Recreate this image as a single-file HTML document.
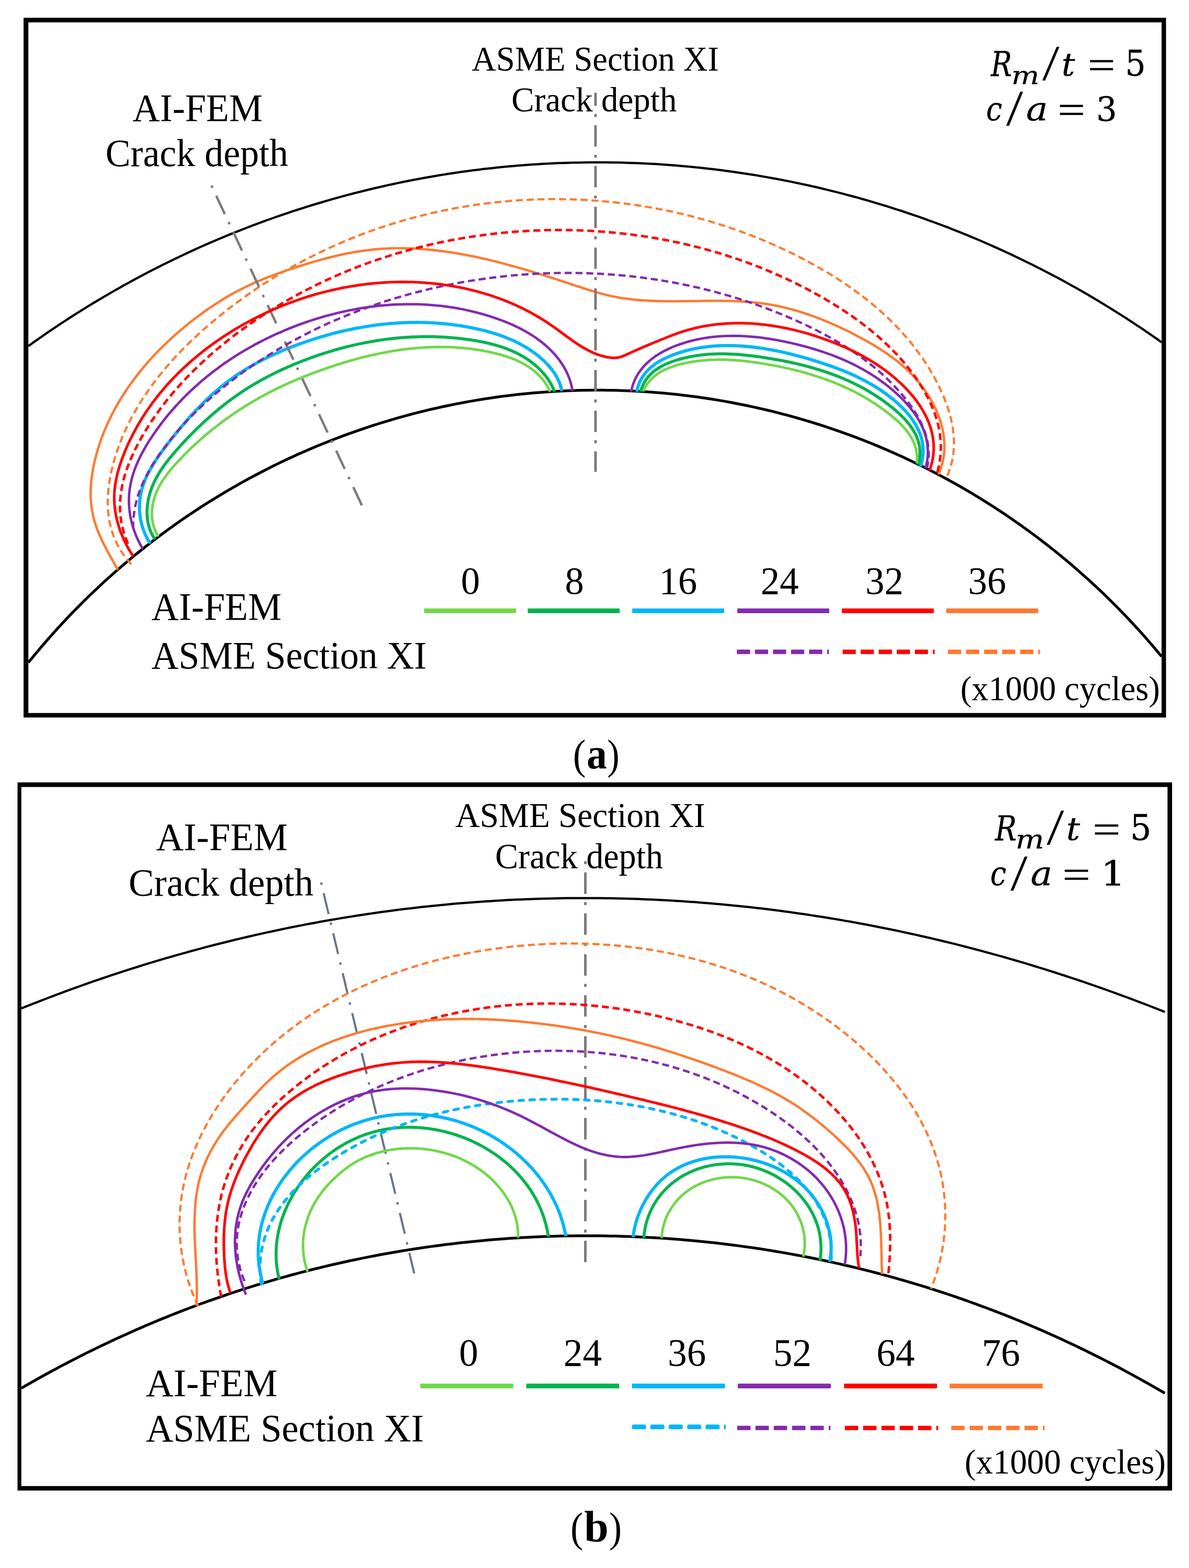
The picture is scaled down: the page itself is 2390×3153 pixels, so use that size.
<!DOCTYPE html>
<html><head><meta charset="utf-8"><title>Crack growth</title>
<style>html,body{margin:0;padding:0;background:#fff}svg{display:block}text{fill:#000}</style></head>
<body>
<svg width="2390" height="3153" viewBox="0 0 2390 3153" font-family="'Liberation Serif',serif">
<defs><filter id="soft" filterUnits="userSpaceOnUse" x="0" y="0" width="2390" height="3153"><feGaussianBlur stdDeviation="0.55"/></filter></defs>
<rect width="2390" height="3153" fill="#fff"/>
<g filter="url(#soft)">
<path fill="#000" fill-rule="evenodd" d="M47.4 35.8H2343.8V1442.8H47.4Z M57 45.1V1433.8H2334.9V45.1Z"/>
<path fill="#000" fill-rule="evenodd" d="M35.2 1573.3H2356V2997.2H35.2Z M42.9 1582.6V2988.3H2346.8V1582.6Z"/>
<g id="panel-a">
<path d="M57.0 695.9l10-7.2 10.1-7.1 10-7 10-6.9 10.1-6.8 10-6.7 10-6.7 10.1-6.5 10-6.5 10.1-6.3 10-6.3 10-6.2 10.1-6.2 10-6 10-5.9 10.1-5.9 10-5.8 10-5.7 10.1-5.7 10-5.5 10-5.5 10.1-5.4 10-5.4 10-5.2 10.1-5.2 10-5.1 10.1-5.1 10-4.9 10-4.9 10.1-4.9 10-4.7 10-4.7 10.1-4.6 10-4.6 10-4.5 10.1-4.4 10-4.3 10-4.3 10.1-4.2 10-4.2 10-4 10.1-4.1 10-3.9 10.1-3.9 10-3.8 10-3.8 10.1-3.7 10-3.7 10-3.5 10.1-3.6 10-3.4 10-3.4 10.1-3.4 10-3.2 10-3.2 10.1-3.2 10-3.1 10-3 10.1-3 10-2.9 10-2.9 10.1-2.8 10-2.8 10.1-2.7 10-2.6 10-2.6 10.1-2.5 10-2.5 10-2.4 10.1-2.3 10-2.3 10-2.3 10.1-2.2 10-2.1 10-2.1 10.1-2 10-2 10-1.9 10.1-1.8 10-1.8 10.1-1.8 10-1.7 10-1.6 10.1-1.6 10-1.6 10-1.4 10.1-1.5 10-1.3 10-1.4 10.1-1.2 10-1.3 10-1.1 10.1-1.1 10-1.1 10-1 10.1-1 10-0.9 10.1-0.8 10-0.8 10-0.8 10.1-0.7 10-0.6 10-0.6 10.1-0.6 10-0.5 10-0.4 10.1-0.4 10-0.3 10-0.3 10.1-0.2 10-0.2 10-0.2 10.1 0 10-0.1 10.1 0.1 10 0 10 0.2 10.1 0.1 10 0.3 10 0.3 10.1 0.3 10 0.4 10 0.4 10.1 0.5 10 0.5 10 0.6 10.1 0.7 10 0.7 10 0.7 10.1 0.8 10 0.9 10.1 0.9 10 0.9 10 1 10.1 1.1 10 1.1 10 1.2 10.1 1.2 10 1.2 10 1.4 10.1 1.3 10 1.5 10 1.5 10.1 1.5 10 1.6 10 1.6 10.1 1.7 10 1.8 10.1 1.8 10 1.8 10 1.9 10.1 2 10 2 10 2.1 10.1 2.1 10 2.2 10 2.2 10.1 2.3 10 2.4 10 2.4 10.1 2.5 10 2.5 10 2.5 10.1 2.7 10 2.7 10.1 2.7 10 2.8 10 2.9 10.1 2.9 10 3 10 3 10.1 3.1 10 3.2 10 3.2 10.1 3.2 10 3.4 10 3.4 10.1 3.4 10 3.5 10 3.6 10.1 3.7 10 3.7 10 3.7 10.1 3.8 10 3.9 10.1 4 10 4 10 4.1 10.1 4.1 10 4.2 10 4.3 10.1 4.4 10 4.4 10 4.5 10.1 4.5 10 4.6 10 4.7 10.1 4.8 10 4.8 10 4.9 10.1 4.9 10 5.1 10.1 5.1 10 5.2 10 5.2 10.1 5.3 10 5.4 10 5.5 10.1 5.6 10 5.6 10 5.7 10.1 5.8 10 5.9 10 5.9 10.1 6.1 10 6.1 10 6.2 10.1 6.3 10 6.3 10.1 6.5 10 6.5 10 6.7 10.1 6.7 10 6.8 10 6.9 10.1 7 10 7.1" fill="none" stroke="#000" stroke-width="4.5" stroke-linejoin="round"/>
<path d="M57.0 1332.3l10-12.3 10.1-12.1 10-11.8 10-11.5 10.1-11.4 10-11 10-10.9 10.1-10.7 10-10.4 10.1-10.2 10-10.1 10-9.8 10.1-9.7 10-9.5 10-9.3 10.1-9.1 10-9 10-8.8 10.1-8.6 10-8.5 10-8.4 10.1-8.2 10-8 10-7.9 10.1-7.8 10-7.6 10.1-7.5 10-7.3 10-7.2 10.1-7.1 10-7 10-6.9 10.1-6.7 10-6.6 10-6.5 10.1-6.4 10-6.2 10-6.2 10.1-6 10-6 10-5.8 10.1-5.7 10-5.7 10.1-5.5 10-5.4 10-5.3 10.1-5.2 10-5.1 10-5.1 10.1-4.9 10-4.8 10-4.8 10.1-4.6 10-4.6 10-4.4 10.1-4.4 10-4.3 10-4.2 10.1-4.1 10-4 10-4 10.1-3.8 10-3.8 10.1-3.7 10-3.6 10-3.5 10.1-3.5 10-3.3 10-3.3 10.1-3.2 10-3.2 10-3 10.1-3 10-2.9 10-2.8 10.1-2.7 10-2.7 10-2.6 10.1-2.5 10-2.4 10.1-2.4 10-2.2 10-2.3 10.1-2.1 10-2.1 10-2 10.1-1.9 10-1.8 10-1.8 10.1-1.7 10-1.6 10-1.6 10.1-1.5 10-1.4 10-1.4 10.1-1.2 10-1.2 10.1-1.2 10-1 10-1 10.1-1 10-0.8 10-0.8 10.1-0.7 10-0.7 10-0.6 10.1-0.5 10-0.4 10-0.4 10.1-0.3 10-0.3 10-0.1 10.1-0.1 10-0.1 10.1 0.1 10 0.1 10 0.1 10.1 0.3 10 0.3 10 0.4 10.1 0.4 10 0.5 10 0.6 10.1 0.7 10 0.7 10 0.8 10.1 0.8 10 1 10 1 10.1 1 10 1.2 10.1 1.2 10 1.3 10 1.3 10.1 1.4 10 1.5 10 1.6 10.1 1.6 10 1.7 10 1.8 10.1 1.9 10 1.9 10 2 10.1 2 10 2.2 10 2.2 10.1 2.3 10 2.3 10.1 2.5 10 2.5 10 2.6 10.1 2.6 10 2.8 10 2.8 10.1 2.9 10 2.9 10 3.1 10.1 3.1 10 3.2 10 3.3 10.1 3.4 10 3.4 10 3.5 10.1 3.7 10 3.6 10.1 3.8 10 3.9 10 3.9 10.1 4 10 4.2 10 4.2 10.1 4.3 10 4.3 10 4.5 10.1 4.6 10 4.6 10 4.8 10.1 4.8 10 4.9 10 5 10.1 5.2 10 5.2 10 5.3 10.1 5.4 10 5.5 10.1 5.7 10 5.7 10 5.8 10.1 6 10 6 10 6.2 10.1 6.2 10 6.4 10 6.5 10.1 6.6 10 6.7 10 6.9 10.1 7 10 7.1 10 7.2 10.1 7.4 10 7.5 10.1 7.6 10 7.7 10 7.9 10.1 8.1 10 8.2 10 8.3 10.1 8.5 10 8.7 10 8.8 10.1 8.9 10 9.2 10 9.3 10.1 9.5 10 9.6 10 9.9 10.1 10 10 10.3 10.1 10.4 10 10.7 10 10.8 10.1 11.1 10 11.4 10 11.5 10.1 11.8 10 12.1" fill="none" stroke="#000" stroke-width="5.5" stroke-linejoin="round"/>
<path d="M302.1 1092.8l-3.4-5.2 -3-5.4 -2.8-5.5 -2.5-5.7 -2.2-5.7 -1.9-5.8 -1.7-5.9 -1.3-5.9 -1.2-6 -0.8-6 -0.6-6 -0.3-6.1 0-6 0.2-6 0.4-5.9 0.8-5.9 1-5.8 1.2-5.7 1.5-5.7 1.7-5.6 1.9-5.5 2.1-5.5 2.3-5.4 2.5-5.4 2.7-5.3 2.8-5.2 2.9-5.2 3.1-5.1 3.2-5.1 3.3-5.1 3.4-5 3.5-5 3.6-4.9 3.6-5 3.7-4.9 3.7-4.8 3.7-4.9 3.7-4.8 3.8-4.8 3.8-4.7 3.8-4.8 3.8-4.7 3.9-4.7 3.9-4.6 3.9-4.6 3.9-4.6 4-4.6 4-4.5 4.1-4.4 4.1-4.5 4.1-4.4 4.1-4.3 4.2-4.3 4.2-4.2 4.3-4.2 4.3-4.2 4.3-4.1 4.4-4.1 4.4-4 4.5-3.9 4.5-3.9 4.6-3.8 4.6-3.8 4.6-3.7 4.7-3.7 4.8-3.6 4.8-3.5 4.8-3.5 4.9-3.3 5-3.4 5-3.2 5-3.2 5.1-3.2 5.1-3.1 5.2-3 5.2-2.9 5.3-2.9 5.3-2.9 5.3-2.7 5.4-2.8 5.4-2.6 5.4-2.6 5.5-2.6 5.5-2.5 5.5-2.5 5.5-2.4 5.6-2.3 5.6-2.3 5.6-2.3 5.6-2.2 5.7-2.1 5.6-2.2 5.7-2 5.7-2 5.7-2 5.7-2 5.7-1.8 5.8-1.9 5.7-1.8 5.8-1.7 5.8-1.7 5.8-1.7 5.7-1.6 5.9-1.6 5.8-1.5 5.8-1.5 5.8-1.4 5.9-1.4 5.8-1.3 5.9-1.3 5.8-1.2 5.9-1.1 5.9-1.2 5.9-1 5.9-1 5.9-1 5.9-0.9 5.9-0.9 6-0.8 5.9-0.7 5.9-0.7 6-0.7 5.9-0.5 6-0.6 5.9-0.4 6-0.5 6-0.3 5.9-0.3 6-0.3 6-0.2 6-0.1 6 0 5.9-0.1 6 0.1 6 0.1 6 0.2 6 0.2 6 0.3 6 0.4 6 0.4 6 0.5 6 0.5 6 0.6 6 0.7 6 0.7 6 0.9 6 0.8 6 1 6 1 6 1 6 1.2 6 1.2 6 1.3 6 1.3 5.9 1.4 5.9 1.6 5.9 1.6 5.9 1.6 5.8 1.8 5.8 1.9 5.7 2 5.7 2 5.6 2.2 5.6 2.3 5.5 2.3 5.5 2.5 5.4 2.6 5.3 2.7 5.2 2.8 5.2 3 5.1 3 5 3.2 4.9 3.3 4.7 3.5 4.7 3.5 4.6 3.8 4.5 3.8 4.4 4 4.2 4.1 4.1 4.3 4 4.5 3.8 4.6 3.5 4.7 3.4 5 3 5.1 2.8 5.3 2.5 5.5 2.2 5.8 1.8 5.9 1.4 6.1" fill="none" stroke="#00b6f8" stroke-width="6.4" stroke-linejoin="round"/>
<path d="M1280.0 787.8l1.4-6.6 1.9-6.2 2.2-5.8 2.6-5.6 3-5.2 3.4-4.9 3.6-4.6 4-4.3 4.2-4.1 4.5-3.8 4.6-3.6 4.9-3.4 5.1-3.1 5.2-2.9 5.4-2.8 5.4-2.5 5.6-2.4 5.6-2.3 5.7-2.1 5.7-1.9 5.8-1.8 5.7-1.7 5.9-1.6 5.8-1.4 5.9-1.4 5.9-1.1 6-1.1 5.9-1 6-0.8 6-0.7 6-0.7 6.1-0.5 6-0.4 6.1-0.3 6-0.2 6.1-0.1 6.1 0 6.1 0.1 6.1 0.2 6.1 0.2 6 0.4 6.1 0.4 6.1 0.5 6.1 0.6 6 0.7 6.1 0.7 6 0.8 6 0.9 6 0.9 6 1 5.9 1.1 5.9 1.1 5.9 1.1 5.9 1.3 5.9 1.2 5.8 1.4 5.9 1.4 5.8 1.4 5.8 1.5 5.8 1.5 5.8 1.6 5.7 1.6 5.8 1.6 5.7 1.7 5.8 1.7 5.7 1.8 5.8 1.8 5.7 1.8 5.7 1.9 5.7 1.9 5.7 1.9 5.7 2 5.7 2.1 5.6 2.1 5.7 2.1 5.6 2.2 5.6 2.3 5.5 2.4 5.6 2.4 5.5 2.5 5.4 2.5 5.5 2.6 5.4 2.7 5.3 2.8 5.4 2.9 5.2 2.9 5.3 3.1 5.2 3.1 5.1 3.2 5.1 3.3 5.1 3.4 4.9 3.5 5 3.7 4.8 3.7 4.9 3.8 4.7 4 4.7 4 4.5 4.2 4.5 4.2 4.3 4.4 4.1 4.5 4.1 4.5 3.8 4.7 3.6 4.8 3.5 4.9 3.2 5 3 5.1 2.7 5.2 2.5 5.3 2.2 5.4 1.9 5.5 1.6 5.6 1.2 5.7 1 5.8 0.5 5.9 0.2 6 -0.2 6.1 -0.6 6.2 -1 6.2 -1.4 6.4 -1.9 6.5" fill="none" stroke="#00b6f8" stroke-width="6.4" stroke-linejoin="round"/>
<path d="M236.7 1145.9l-2.8-5.3 -2.9-5.2 -2.9-5.3 -3-5.3 -2.9-5.3 -2.9-5.3 -2.9-5.3 -2.9-5.3 -2.8-5.4 -2.7-5.4 -2.7-5.4 -2.5-5.5 -2.4-5.4 -2.4-5.6 -2.1-5.5 -2.1-5.6 -1.8-5.7 -1.8-5.6 -1.5-5.7 -1.5-5.8 -1.2-5.8 -1.1-5.8 -0.9-5.8 -0.7-5.9 -0.5-5.9 -0.4-5.9 -0.2-6 0-6 0.1-6 0.3-6 0.5-6 0.5-6 0.8-6 0.8-6 1-6 1-6 1.2-5.9 1.3-6 1.4-5.9 1.5-5.9 1.6-5.8 1.6-5.8 1.8-5.8 1.8-5.7 1.9-5.7 2-5.7 2.1-5.7 2.1-5.6 2.2-5.5 2.3-5.5 2.4-5.5 2.4-5.5 2.6-5.4 2.6-5.4 2.6-5.4 2.8-5.3 2.8-5.2 2.8-5.3 3-5.2 3-5.2 3.1-5.1 3.1-5.1 3.2-5 3.3-5.1 3.3-4.9 3.4-5 3.4-4.9 3.6-4.9 3.5-4.8 3.6-4.8 3.7-4.7 3.7-4.7 3.8-4.7 3.8-4.7 3.9-4.6 4-4.5 3.9-4.5 4.1-4.5 4-4.5 4.2-4.4 4.1-4.3 4.2-4.4 4.3-4.2 4.3-4.3 4.3-4.2 4.4-4.2 4.4-4.1 4.5-4.1 4.5-4 4.5-4 4.5-4 4.6-3.9 4.7-3.9 4.6-3.8 4.7-3.8 4.7-3.8 4.7-3.7 4.8-3.7 4.8-3.6 4.8-3.6 4.9-3.5 4.9-3.5 4.9-3.5 4.9-3.4 5-3.4 5-3.3 5-3.2 5.1-3.2 5-3.2 5.1-3.1 5.2-3 5.2-3 5.2-3 5.2-2.8 5.2-2.9 5.3-2.7 5.4-2.7 5.3-2.7 5.4-2.6 5.4-2.5 5.4-2.5 5.5-2.4 5.5-2.3 5.5-2.3 5.6-2.3 5.5-2.2 5.6-2.1 5.7-2.1 5.6-2.1 5.6-2.1 5.7-2 5.7-2 5.7-1.9 5.7-2 5.7-1.9 5.8-1.9 5.7-1.8 5.8-1.9 5.7-1.8 5.8-1.8 5.8-1.7 5.8-1.8 5.8-1.7 5.8-1.6 5.9-1.6 5.8-1.6 5.8-1.5 5.9-1.5 5.9-1.5 5.8-1.4 5.9-1.3 5.9-1.3 5.9-1.3 5.9-1.2 5.9-1.1 5.9-1.1 5.9-1 5.9-0.9 5.9-0.9 6-0.8 5.9-0.8 6-0.7 5.9-0.6 6-0.5 5.9-0.5 6-0.4 5.9-0.3 6-0.3 6-0.2 5.9-0.1 6-0.1 6 0 6 0.1 5.9 0.1 6 0.2 6 0.2 6 0.3 6 0.4 5.9 0.4 6 0.5 6 0.5 6 0.5 5.9 0.7 6 0.6 6 0.8 5.9 0.7 6 0.8 5.9 0.9 6 0.9 5.9 1 6 0.9 5.9 1.1 6 1.1 5.9 1.1 5.9 1.1 5.9 1.2 5.9 1.2 5.9 1.3 5.9 1.3 5.9 1.3 5.9 1.4 5.9 1.4 5.8 1.4 5.9 1.4 5.8 1.5 5.9 1.5 5.8 1.6 5.8 1.5 5.8 1.6 5.8 1.6 5.8 1.6 5.8 1.7 5.7 1.6 5.8 1.7 5.7 1.7 5.8 1.7 5.7 1.8 5.7 1.7 5.7 1.8 5.7 1.7 5.8 1.8 5.7 1.8 5.7 1.9 5.7 1.8 5.7 1.8 5.7 1.9 5.7 1.9 5.7 1.8 5.7 1.9 5.7 1.9 5.7 1.9 5.7 1.9 5.7 1.9 5.8 1.9 5.7 1.8 5.7 1.9 5.8 1.8 5.7 1.7 5.8 1.7 5.8 1.7 5.8 1.6 5.8 1.5 5.8 1.4 5.9 1.4 5.8 1.2 5.9 1.2 5.9 1.1 5.9 1 5.9 0.9 5.9 0.8 5.9 0.7 6 0.7 6 0.6 5.9 0.5 6 0.4 6 0.4 6 0.4 6 0.3 6 0.2 6 0.2 6 0.1 6 0.1 6 0.1 6.1 0 6 0.1 6 0 6-0.1 6 0 6.1-0.1 6-0.1 6-0.1 6 0 6-0.1 6.1-0.1 6-0.1 6-0.1 6 0 6-0.1 6 0 6 0 6 0 6 0.1 6 0.1 6 0.1 6 0.2 6 0.2 5.9 0.2 6 0.3 6 0.4 5.9 0.4 6 0.5 5.9 0.5 5.9 0.6 6 0.7 5.9 0.7 5.9 0.9 5.9 0.9 5.9 1 5.9 1 5.9 1.2 5.8 1.2 5.9 1.3 5.8 1.4 5.9 1.4 5.8 1.6 5.8 1.6 5.8 1.6 5.7 1.8 5.8 1.8 5.8 1.9 5.7 1.9 5.7 2 5.7 2 5.7 2.1 5.6 2.2 5.7 2.2 5.6 2.3 5.6 2.4 5.6 2.3 5.5 2.5 5.6 2.5 5.5 2.5 5.5 2.6 5.4 2.6 5.5 2.6 5.4 2.7 5.4 2.8 5.3 2.7 5.4 2.9 5.3 2.8 5.2 2.9 5.3 2.9 5.2 2.9 5.2 3 5.1 3 5.1 3.1 5.1 3.1 5 3.2 5 3.3 4.9 3.3 4.9 3.3 4.8 3.5 4.8 3.5 4.7 3.5 4.6 3.7 4.6 3.7 4.5 3.9 4.5 3.9 4.3 4 4.3 4.1 4.3 4.3 4.1 4.3 4.1 4.4 4 4.6 3.9 4.6 3.8 4.8 3.7 4.9 3.6 4.9 3.4 5.1 3.4 5.1 3.2 5.2 3.1 5.3 3 5.3 2.8 5.5 2.7 5.4 2.5 5.6 2.4 5.6 2.2 5.7 2 5.6 1.8 5.8 1.7 5.8 1.4 5.8 1.3 5.8 1 5.9 0.9 5.8 0.6 5.9 0.4 5.9 0.2 5.9 0 5.9 -0.3 5.9 -0.5 5.9 -0.8 5.9 -1 5.9 -1.3 5.8 -1.6 5.9 -1.8 5.8 -2.2 5.7 -2.4 5.7" fill="none" stroke="#ff7a30" stroke-width="4.8" stroke-linejoin="round"/>
<path d="M264.0 1134.8l-4.5-5 -4.2-5 -4-5.1 -3.8-5.2 -3.5-5.3 -3.3-5.3 -3-5.4 -2.8-5.5 -2.6-5.4 -2.4-5.6 -2.1-5.6 -2-5.6 -1.7-5.7 -1.6-5.7 -1.3-5.7 -1.2-5.8 -1-5.8 -0.8-5.9 -0.7-5.8 -0.4-5.9 -0.3-5.9 -0.2-5.9 0-5.9 0.1-5.9 0.3-6 0.5-5.9 0.5-5.9 0.7-6 0.8-5.9 1-5.9 1-5.9 1.2-5.9 1.2-5.8 1.4-5.9 1.4-5.8 1.6-5.8 1.6-5.7 1.7-5.8 1.7-5.7 1.9-5.6 1.9-5.6 2-5.6 2.1-5.6 2.2-5.5 2.2-5.5 2.3-5.5 2.4-5.4 2.5-5.4 2.5-5.3 2.6-5.4 2.6-5.3 2.7-5.2 2.8-5.3 2.9-5.2 2.9-5.1 2.9-5.2 3.1-5.1 3.1-5.1 3.1-5 3.3-5 3.2-5 3.4-4.9 3.3-4.9 3.5-4.9 3.5-4.9 3.5-4.8 3.6-4.8 3.7-4.7 3.7-4.8 3.7-4.7 3.8-4.6 3.8-4.6 3.9-4.6 4-4.6 3.9-4.5 4-4.5 4.1-4.5 4.1-4.5 4.1-4.4 4.2-4.3 4.2-4.4 4.3-4.3 4.3-4.3 4.3-4.3 4.4-4.2 4.4-4.2 4.4-4.1 4.4-4.2 4.5-4.1 4.5-4 4.6-4.1 4.6-4 4.5-4 4.7-3.9 4.6-3.9 4.7-3.9 4.7-3.9 4.7-3.8 4.7-3.8 4.8-3.8 4.7-3.7 4.8-3.7 4.8-3.7 4.9-3.6 4.8-3.6 4.9-3.6 4.9-3.6 4.9-3.5 4.9-3.5 4.9-3.4 5-3.5 5-3.4 4.9-3.4 5.1-3.3 5-3.3 5-3.3 5.1-3.2 5.1-3.2 5.1-3.2 5.1-3.2 5.1-3.1 5.2-3.1 5.1-3.1 5.2-3 5.2-3 5.2-3 5.2-2.9 5.3-2.9 5.2-2.9 5.3-2.8 5.3-2.9 5.3-2.8 5.3-2.7 5.3-2.7 5.4-2.7 5.3-2.7 5.4-2.6 5.4-2.6 5.4-2.6 5.4-2.5 5.5-2.5 5.4-2.5 5.4-2.4 5.5-2.5 5.5-2.3 5.5-2.4 5.5-2.3 5.5-2.3 5.5-2.3 5.6-2.2 5.5-2.2 5.6-2.1 5.6-2.2 5.6-2.1 5.6-2 5.6-2.1 5.6-2 5.7-2 5.6-1.9 5.7-1.9 5.6-1.9 5.7-1.8 5.7-1.8 5.7-1.8 5.7-1.8 5.7-1.7 5.7-1.7 5.8-1.7 5.7-1.6 5.8-1.6 5.7-1.5 5.8-1.6 5.8-1.5 5.8-1.4 5.7-1.5 5.9-1.4 5.8-1.4 5.8-1.3 5.8-1.3 5.8-1.3 5.9-1.2 5.8-1.2 5.9-1.2 5.9-1.2 5.8-1.1 5.9-1.1 5.9-1 5.9-1 5.9-1 5.9-1 5.9-0.9 5.9-0.9 5.9-0.9 5.9-0.8 6-0.8 5.9-0.7 5.9-0.8 6-0.7 5.9-0.6 6-0.7 5.9-0.6 6-0.5 6-0.6 5.9-0.5 6-0.5 6-0.4 6-0.4 5.9-0.4 6-0.3 6-0.3 6-0.3 6-0.3 6-0.2 6-0.2 6-0.1 6-0.1 6-0.1 6-0.1 6 0 6 0 6 0.1 6 0.1 6 0.1 6 0.1 6 0.2 6 0.2 6 0.2 6 0.3 6 0.3 6 0.3 5.9 0.4 6 0.4 6 0.5 6 0.4 6 0.5 6 0.5 6 0.6 6 0.6 5.9 0.6 6 0.7 6 0.7 5.9 0.7 6 0.8 6 0.8 5.9 0.8 6 0.8 5.9 0.9 5.9 0.9 6 1 5.9 1 5.9 1 6 1 5.9 1.1 5.9 1.1 5.9 1.2 5.9 1.2 5.9 1.2 5.8 1.2 5.9 1.3 5.9 1.3 5.9 1.3 5.8 1.4 5.9 1.4 5.8 1.5 5.8 1.4 5.9 1.5 5.8 1.6 5.8 1.5 5.8 1.6 5.8 1.7 5.7 1.6 5.8 1.7 5.8 1.8 5.7 1.7 5.8 1.8 5.7 1.9 5.7 1.8 5.7 1.9 5.7 1.9 5.7 2 5.7 2 5.7 2 5.6 2.1 5.7 2 5.6 2.2 5.6 2.1 5.7 2.2 5.5 2.2 5.6 2.3 5.6 2.3 5.6 2.3 5.5 2.3 5.5 2.4 5.6 2.4 5.5 2.5 5.5 2.4 5.4 2.5 5.5 2.6 5.5 2.6 5.4 2.6 5.4 2.6 5.4 2.7 5.4 2.7 5.4 2.7 5.4 2.8 5.3 2.8 5.3 2.8 5.3 2.9 5.3 2.9 5.3 2.9 5.3 3 5.2 3 5.2 3.1 5.2 3 5.2 3.1 5.1 3.2 5.1 3.2 5.1 3.2 5.1 3.2 5 3.3 5 3.3 5 3.4 5 3.4 4.9 3.4 4.9 3.5 4.9 3.5 4.8 3.6 4.8 3.5 4.7 3.7 4.8 3.6 4.7 3.7 4.6 3.8 4.6 3.8 4.6 3.8 4.5 3.9 4.5 3.9 4.5 3.9 4.4 4 4.4 4 4.3 4.1 4.3 4.1 4.2 4.2 4.2 4.2 4.1 4.2 4.1 4.3 4 4.4 4 4.3 4 4.5 3.9 4.4 3.8 4.5 3.8 4.6 3.7 4.6 3.7 4.6 3.6 4.7 3.6 4.8 3.5 4.7 3.5 4.9 3.4 4.9 3.3 4.9 3.3 5 3.2 5 3.1 5 3.1 5.2 3 5.1 3 5.2 2.9 5.3 2.8 5.3 2.8 5.4 2.7 5.4 2.6 5.5 2.5 5.5 2.5 5.5 2.3 5.6 2.3 5.6 2.1 5.7 2.1 5.7 1.9 5.7 1.8 5.8 1.7 5.8 1.5 5.8 1.4 5.8 1.2 5.9 1.1 5.9 1 5.9 0.7 5.9 0.6 5.9 0.4 5.9 0.3 6 0 5.9 -0.1 6 -0.4 5.9 -0.5 6 -0.8 5.9 -1 5.9 -1.2 6 -1.5 5.9 -1.7 5.9 -1.9 5.9 -2.2 5.8 -2.5 5.9 -2.7 5.8" fill="none" stroke="#ff7a30" stroke-width="4.4" stroke-linejoin="round" stroke-dasharray="14 7.7"/>
<path d="M1197 186.5V948.7" fill="none" stroke="#7f7a7a" stroke-width="5.2" stroke-dasharray="43 16.5 6 16.5" stroke-dashoffset="16.7"/>
<path d="M425 373.3L730 1021.7" fill="none" stroke="#7f7a7a" stroke-width="4.8" stroke-dasharray="5 17.7 40.5 17.7"/>
<path d="M311.3 1084.4l-3.3-5.3 -2.9-5.4 -2.5-5.6 -2.1-5.7 -1.7-5.8 -1.3-5.9 -1-5.9 -0.6-6 -0.3-6.1 0-6 0.3-6 0.6-6.1 0.9-5.9 1.1-5.9 1.4-5.8 1.6-5.8 1.8-5.6 2-5.5 2.3-5.5 2.4-5.4 2.7-5.3 2.8-5.2 2.9-5.1 3.1-5.1 3.3-5 3.3-5 3.5-4.9 3.6-4.8 3.8-4.8 3.8-4.7 3.8-4.7 4-4.6 4-4.6 4-4.5 4.1-4.6 4.1-4.4 4.2-4.5 4.1-4.4 4.2-4.4 4.2-4.3 4.3-4.3 4.3-4.3 4.3-4.2 4.3-4.2 4.4-4.2 4.4-4.1 4.4-4.1 4.5-4 4.5-4 4.5-3.9 4.6-3.9 4.6-3.9 4.6-3.8 4.7-3.7 4.6-3.8 4.8-3.6 4.7-3.6 4.8-3.6 4.9-3.5 4.8-3.5 4.9-3.4 5-3.4 4.9-3.3 5.1-3.3 5-3.2 5.1-3.1 5.1-3.1 5.2-3 5.2-3 5.2-3 5.3-2.8 5.3-2.9 5.3-2.7 5.3-2.8 5.4-2.7 5.4-2.6 5.5-2.6 5.4-2.5 5.5-2.5 5.5-2.4 5.5-2.4 5.6-2.4 5.5-2.2 5.6-2.3 5.6-2.2 5.6-2.2 5.7-2.1 5.6-2.1 5.7-2 5.6-2 5.7-2 5.7-1.9 5.8-1.8 5.7-1.8 5.7-1.8 5.8-1.7 5.7-1.7 5.8-1.6 5.8-1.6 5.8-1.5 5.8-1.5 5.9-1.4 5.8-1.4 5.9-1.3 5.8-1.3 5.9-1.2 5.9-1.2 5.8-1.1 5.9-1.1 5.9-1 6-1 5.9-0.9 5.9-0.9 5.9-0.8 6-0.7 5.9-0.7 6-0.7 6-0.6 5.9-0.5 6-0.5 6-0.4 6-0.4 6-0.3 6-0.2 6-0.2 6-0.2 6-0.1 6 0 6 0.1 6.1 0.1 6 0.1 6 0.2 6 0.3 6.1 0.3 6 0.4 6 0.5 6.1 0.5 6 0.6 6.1 0.7 6 0.7 6 0.8 6.1 0.8 6 0.9 6 1 6 1.1 6 1.1 6 1.2 5.9 1.3 6 1.4 5.8 1.6 5.8 1.6 5.8 1.7 5.7 1.8 5.7 2 5.6 2.1 5.5 2.2 5.5 2.3 5.4 2.5 5.3 2.6 5.2 2.7 5.1 2.9 5 3.1 4.9 3.2 4.8 3.4 4.7 3.5 4.6 3.8 4.4 3.9 4.3 4.1 4.2 4.2 4 4.5 3.9 4.6 3.7 4.9 3.4 5 3.2 5.3 3 5.4 2.6 5.6 2.3 5.9" fill="none" stroke="#00b450" stroke-width="6.0" stroke-linejoin="round"/>
<path d="M1287.5 787.5l2-6.3 2.3-5.9 2.8-5.5 3.2-5.2 3.5-4.8 3.8-4.5 4.1-4.1 4.4-3.9 4.6-3.6 4.9-3.3 5.1-3 5.2-2.8 5.4-2.6 5.6-2.3 5.6-2.2 5.7-2 5.8-1.8 5.8-1.7 5.8-1.5 5.8-1.4 5.9-1.3 5.8-1.1 5.9-1.1 5.9-0.9 6-0.7 5.9-0.7 5.9-0.5 6-0.5 6-0.3 6-0.2 6-0.2 6 0 6 0 6 0.1 6 0.3 6 0.3 6.1 0.3 6 0.5 6 0.5 6.1 0.6 6 0.6 6 0.7 6.1 0.7 6 0.8 6 0.9 6 0.9 6 0.9 6 1 6 1 6 1 5.9 1.1 6 1.1 5.9 1.1 6 1.2 5.9 1.3 5.9 1.3 5.9 1.3 5.8 1.4 5.9 1.4 5.8 1.5 5.8 1.5 5.8 1.6 5.8 1.6 5.7 1.7 5.8 1.8 5.7 1.8 5.7 1.8 5.6 1.9 5.7 2 5.6 2.1 5.5 2.1 5.6 2.2 5.5 2.2 5.5 2.3 5.5 2.4 5.4 2.5 5.4 2.5 5.4 2.6 5.3 2.6 5.4 2.8 5.2 2.8 5.3 2.9 5.2 3 5.1 3.1 5.2 3.1 5 3.3 5.1 3.3 5 3.4 5 3.5 4.9 3.6 4.9 3.6 4.8 3.8 4.8 3.8 4.7 4 4.7 4 4.5 4.2 4.4 4.3 4.3 4.3 4.1 4.5 3.9 4.6 3.7 4.7 3.4 4.8 3.2 4.9 2.9 5.1 2.7 5.2 2.2 5.3 2 5.4 1.6 5.6 1.2 5.7 0.7 5.9 0.4 5.9 -0.1 6.2 -0.6 6.3 -1 6.4 -1.6 6.6" fill="none" stroke="#00b450" stroke-width="6.0" stroke-linejoin="round"/>
<path d="M318.4 1078.7l-3.3-5.5 -2.7-5.7 -2.3-5.7 -1.8-5.8 -1.4-5.9 -0.9-6 -0.5-5.9 -0.2-6 0.2-6 0.6-5.9 0.9-6 1.3-5.8 1.5-5.7 1.8-5.7 2.1-5.5 2.3-5.4 2.5-5.3 2.8-5.2 3-5.2 3.1-5 3.4-4.9 3.5-4.8 3.6-4.8 3.7-4.7 3.9-4.6 4-4.6 4-4.5 4.1-4.5 4.2-4.4 4.2-4.4 4.2-4.3 4.3-4.3 4.3-4.3 4.3-4.2 4.4-4.2 4.4-4.1 4.5-4.1 4.4-4 4.6-4 4.5-4 4.6-3.9 4.6-3.9 4.7-3.8 4.7-3.8 4.7-3.7 4.8-3.7 4.7-3.7 4.9-3.6 4.8-3.6 4.9-3.5 4.9-3.5 4.9-3.4 5-3.4 4.9-3.3 5-3.3 5.1-3.2 5-3.2 5.1-3.2 5.1-3.1 5.2-3.1 5.1-3 5.2-2.9 5.2-3 5.3-2.8 5.2-2.9 5.3-2.8 5.3-2.7 5.3-2.7 5.3-2.7 5.4-2.6 5.4-2.6 5.4-2.5 5.4-2.5 5.5-2.5 5.4-2.4 5.5-2.4 5.5-2.3 5.5-2.3 5.6-2.3 5.5-2.2 5.6-2.2 5.6-2.2 5.6-2.1 5.6-2.1 5.7-2 5.6-2 5.7-2 5.7-2 5.7-1.9 5.7-1.9 5.7-1.8 5.8-1.9 5.7-1.8 5.8-1.7 5.8-1.7 5.8-1.7 5.8-1.6 5.8-1.6 5.8-1.5 5.9-1.5 5.8-1.5 5.9-1.4 5.9-1.4 5.9-1.3 5.8-1.2 5.9-1.3 6-1.1 5.9-1.2 5.9-1 5.9-1.1 5.9-0.9 6-0.9 5.9-0.9 6-0.8 5.9-0.7 6-0.7 6-0.6 5.9-0.6 6-0.5 6-0.5 6-0.3 5.9-0.3 6-0.3 6-0.2 6-0.1 6-0.1 5.9 0.1 6 0 6 0.2 6 0.2 6 0.3 5.9 0.4 6 0.4 6 0.6 5.9 0.6 6 0.6 6 0.8 5.9 0.8 6 0.9 5.9 1 6 1.1 5.9 1.1 5.9 1.3 5.9 1.3 5.9 1.4 5.9 1.5 5.9 1.6 5.8 1.8 5.7 1.8 5.7 2 5.6 2.2 5.6 2.2 5.4 2.5 5.3 2.6 5.2 2.8 5.1 2.9 5 3.2 4.8 3.4 4.7 3.5 4.5 3.8 4.3 4 4.2 4.2 3.9 4.5 3.8 4.7 3.5 5 3.3 5.3 3.1 5.5 2.9 5.8" fill="none" stroke="#70d848" stroke-width="5.2" stroke-linejoin="round"/>
<path d="M1292.8 787.0l2.7-5.8 3-5.5 3.4-5.1 3.8-4.7 4-4.3 4.4-4 4.5-3.6 4.9-3.4 5-3.1 5.2-2.8 5.4-2.5 5.6-2.3 5.6-2.1 5.8-2 5.8-1.7 5.9-1.6 5.9-1.4 5.9-1.3 5.9-1.2 5.9-1 6-1 5.9-0.8 6-0.7 6-0.5 6-0.5 6-0.4 6-0.2 6-0.2 6-0.1 6 0 6.1 0.2 6 0.2 6 0.2 6.1 0.4 6 0.4 6.1 0.6 6 0.5 6 0.7 6.1 0.7 6 0.8 6 0.8 6.1 0.9 6 0.9 6 1 6 1 6 1.1 6 1.1 6 1.1 5.9 1.2 6 1.2 6 1.3 5.9 1.3 5.9 1.4 5.9 1.4 5.9 1.5 5.9 1.5 5.8 1.6 5.9 1.6 5.8 1.7 5.8 1.7 5.8 1.8 5.7 1.8 5.8 1.9 5.7 1.9 5.6 2.1 5.7 2 5.6 2.2 5.6 2.1 5.6 2.3 5.6 2.3 5.5 2.4 5.5 2.5 5.4 2.5 5.4 2.6 5.4 2.6 5.4 2.8 5.3 2.8 5.3 2.8 5.2 3 5.2 3 5.2 3.1 5.1 3.2 5.1 3.2 5.1 3.3 5 3.5 4.9 3.4 4.9 3.6 4.9 3.7 4.8 3.7 4.8 3.8 4.7 3.9 4.7 4 4.5 4.1 4.4 4.2 4.3 4.4 4.1 4.4 3.9 4.6 3.6 4.7 3.4 4.8 3.2 5 2.8 5.1 2.5 5.3 2.1 5.5 1.8 5.6 1.3 5.9 1 6 0.4 6.2 0 6.3 -0.5 6.6" fill="none" stroke="#70d848" stroke-width="5.2" stroke-linejoin="round"/>
<path d="M267.9 1062.8l-0.1-6.2 0.1-6.1 0.3-6.1 0.5-6 0.7-6 0.9-5.9 1-5.9 1.2-5.8 1.4-5.8 1.5-5.7 1.7-5.7 1.9-5.6 2-5.6 2.1-5.5 2.3-5.5 2.4-5.4 2.5-5.4 2.6-5.4 2.8-5.3 2.8-5.2 3-5.2 3-5.2 3.1-5.1 3.3-5.1 3.3-5 3.3-5 3.5-5 3.5-4.9 3.5-4.8 3.7-4.9 3.6-4.8 3.7-4.7 3.8-4.7 3.7-4.7 3.9-4.6 3.8-4.6 4-4.6 3.9-4.5 4-4.4 4-4.5 4.1-4.4 4.1-4.3 4.2-4.4 4.2-4.3 4.2-4.2 4.2-4.2 4.3-4.2 4.4-4.1 4.3-4.2 4.4-4 4.5-4.1 4.4-4 4.5-3.9 4.5-3.9 4.6-3.9 4.6-3.9 4.6-3.8 4.6-3.8 4.7-3.8 4.7-3.7 4.7-3.7 4.8-3.6 4.8-3.7 4.8-3.5 4.8-3.6 4.8-3.5 4.9-3.5 4.9-3.5 4.9-3.4 5-3.4 5-3.4 4.9-3.3 5-3.3 5.1-3.3 5-3.2 5.1-3.2 5.1-3.2 5.1-3.1 5.1-3.1 5.1-3.1 5.2-3.1 5.2-3 5.2-3 5.2-3 5.2-2.9 5.3-2.9 5.2-2.8 5.3-2.9 5.3-2.8 5.3-2.8 5.4-2.7 5.3-2.7 5.4-2.7 5.4-2.7 5.4-2.6 5.4-2.6 5.4-2.5 5.5-2.6 5.4-2.5 5.5-2.4 5.5-2.5 5.5-2.4 5.5-2.3 5.5-2.4 5.6-2.3 5.5-2.3 5.6-2.2 5.6-2.3 5.6-2.1 5.6-2.2 5.6-2.1 5.6-2.1 5.7-2.1 5.7-2.1 5.6-2 5.7-1.9 5.7-2 5.7-1.9 5.7-1.9 5.7-1.9 5.8-1.8 5.7-1.8 5.8-1.8 5.7-1.7 5.8-1.7 5.8-1.7 5.8-1.6 5.8-1.6 5.8-1.6 5.8-1.6 5.9-1.5 5.8-1.5 5.8-1.5 5.9-1.4 5.9-1.4 5.8-1.4 5.9-1.3 5.9-1.3 5.9-1.3 5.9-1.3 5.9-1.2 5.9-1.2 5.9-1.2 5.9-1.1 5.9-1.1 6-1.1 5.9-1 5.9-1.1 6-1 5.9-0.9 6-0.9 5.9-0.9 6-0.9 6-0.8 5.9-0.9 6-0.7 6-0.8 6-0.7 6-0.7 5.9-0.7 6-0.6 6-0.6 6-0.6 6-0.5 6-0.5 6-0.5 6-0.5 6-0.4 6-0.4 6-0.3 6-0.4 6-0.3 6-0.3 6-0.2 6-0.2 6-0.2 6-0.2 6-0.1 6-0.1 6-0.1 6 0 6 0 6 0 6 0.1 6 0.1 6 0.1 6 0.1 6 0.2 6 0.2 6 0.2 6 0.3 6 0.3 6 0.3 5.9 0.4 6 0.4 6 0.4 6 0.4 5.9 0.5 6 0.5 6 0.6 5.9 0.5 6 0.6 6 0.7 5.9 0.6 6 0.7 5.9 0.7 6 0.8 5.9 0.8 5.9 0.8 6 0.9 5.9 0.8 5.9 0.9 5.9 1 5.9 1 5.9 1 5.9 1 5.9 1.1 5.9 1.1 5.9 1.1 5.9 1.2 5.9 1.2 5.8 1.2 5.9 1.2 5.8 1.3 5.9 1.4 5.8 1.3 5.9 1.4 5.8 1.4 5.8 1.5 5.8 1.4 5.8 1.5 5.9 1.6 5.7 1.6 5.8 1.6 5.8 1.6 5.8 1.7 5.7 1.7 5.8 1.7 5.7 1.8 5.8 1.8 5.7 1.8 5.7 1.9 5.7 1.9 5.8 1.9 5.6 1.9 5.7 2 5.7 2.1 5.7 2 5.6 2.1 5.7 2.1 5.6 2.2 5.7 2.2 5.6 2.2 5.6 2.2 5.6 2.3 5.6 2.3 5.5 2.4 5.6 2.4 5.6 2.4 5.5 2.4 5.6 2.5 5.5 2.5 5.5 2.6 5.5 2.6 5.4 2.6 5.5 2.7 5.4 2.7 5.4 2.7 5.4 2.8 5.4 2.8 5.4 2.8 5.3 2.9 5.3 3 5.2 2.9 5.3 3.1 5.2 3 5.2 3.1 5.1 3.2 5.1 3.2 5.1 3.2 5 3.3 5 3.4 5 3.3 4.9 3.5 4.9 3.5 4.9 3.5 4.8 3.6 4.7 3.6 4.7 3.7 4.7 3.7 4.6 3.8 4.6 3.9 4.5 3.9 4.5 3.9 4.4 4 4.3 4.1 4.3 4.1 4.3 4.2 4.2 4.3 4.1 4.3 4.1 4.3 4 4.5 4 4.4 3.8 4.6 3.9 4.6 3.7 4.7 3.7 4.7 3.6 4.8 3.5 4.8 3.4 5 3.3 5 3.2 5 3 5.1 2.9 5.2 2.7 5.3 2.5 5.3 2.4 5.4 2.2 5.4 1.9 5.6 1.8 5.6 1.5 5.6 1.3 5.8 1 5.8 0.8 5.8 0.5 6 0.2 6 0 6.1 -0.4 6.1 -0.7 6.3 -1 6.3 -1.3 6.3" fill="none" stroke="#8329b0" stroke-width="4.7" stroke-linejoin="round" stroke-dasharray="14 7.7"/>
<path d="M286.8 1103.3l-3.1-5.2 -2.9-5.4 -2.7-5.5 -2.6-5.5 -2.4-5.6 -2.2-5.7 -2-5.8 -1.9-5.8 -1.6-5.8 -1.5-5.9 -1.3-6 -1.1-5.9 -0.8-6 -0.7-6 -0.5-6 -0.3-6 0-5.9 0.1-6 0.3-5.9 0.6-5.9 0.8-5.9 1-5.8 1.1-5.8 1.4-5.7 1.5-5.7 1.7-5.7 1.9-5.6 2-5.6 2.2-5.6 2.3-5.5 2.5-5.4 2.6-5.5 2.7-5.4 2.8-5.3 2.9-5.3 3-5.3 3.1-5.2 3.2-5.2 3.3-5.1 3.4-5.1 3.4-5 3.4-5 3.6-4.9 3.5-4.9 3.6-4.9 3.7-4.8 3.7-4.7 3.8-4.8 3.8-4.6 3.9-4.6 3.9-4.6 4-4.5 4-4.5 4.1-4.4 4.1-4.4 4.2-4.4 4.2-4.2 4.2-4.3 4.3-4.2 4.3-4.1 4.4-4.1 4.4-4.1 4.5-4 4.5-4 4.5-3.9 4.6-3.8 4.6-3.9 4.7-3.7 4.7-3.8 4.7-3.6 4.8-3.7 4.8-3.5 4.8-3.6 4.9-3.5 4.9-3.4 5-3.4 5-3.3 5-3.3 5-3.3 5.1-3.2 5.1-3.2 5.2-3.1 5.1-3 5.2-3 5.3-3 5.2-2.9 5.3-2.9 5.3-2.8 5.4-2.8 5.3-2.7 5.4-2.7 5.4-2.6 5.5-2.6 5.4-2.5 5.5-2.5 5.5-2.4 5.6-2.4 5.5-2.4 5.6-2.3 5.6-2.2 5.6-2.2 5.6-2.2 5.7-2.1 5.6-2 5.7-2 5.7-2 5.7-1.9 5.8-1.8 5.7-1.8 5.8-1.8 5.8-1.7 5.7-1.7 5.8-1.6 5.9-1.5 5.8-1.5 5.8-1.5 5.9-1.3 5.9-1.4 5.8-1.3 5.9-1.2 5.9-1.2 5.9-1.1 5.9-1.1 5.9-1 6-1 5.9-0.9 6-0.8 5.9-0.8 6-0.7 5.9-0.7 6-0.6 5.9-0.5 6-0.5 6-0.5 6-0.4 6-0.3 5.9-0.2 6-0.2 6-0.1 6-0.1 6 0 6 0 6 0.1 5.9 0.2 6 0.3 6 0.3 6 0.4 6 0.4 5.9 0.5 6 0.6 6 0.6 5.9 0.7 6 0.8 5.9 0.8 6 0.9 5.9 1 5.9 1 6 1.1 5.9 1.2 5.9 1.3 5.9 1.3 5.8 1.4 5.9 1.4 5.9 1.6 5.8 1.6 5.9 1.7 5.8 1.7 5.8 1.8 5.8 1.9 5.8 2 5.7 2 5.8 2.2 5.7 2.2 5.6 2.3 5.7 2.3 5.5 2.5 5.5 2.6 5.5 2.6 5.4 2.8 5.3 2.8 5.3 3 5.2 3 5.1 3.2 5 3.2 4.9 3.4 4.8 3.5 4.7 3.6 4.6 3.7 4.5 3.8 4.4 4 4.2 4 4.1 4.2 4 4.4 3.9 4.4 3.7 4.6 3.6 4.7 3.4 4.9 3.2 5 3 5.1 2.9 5.3 2.6 5.4 2.4 5.5 2.2 5.7 1.9 5.8 1.6 6 1.4 6.1 1 6.3" fill="none" stroke="#8329b0" stroke-width="5.0" stroke-linejoin="round"/>
<path d="M1268.5 787.6l1.5-6.4 1.8-6.1 2.1-5.9 2.4-5.7 2.7-5.4 2.9-5.2 3.3-5 3.5-4.7 3.7-4.6 3.9-4.4 4.2-4.1 4.4-4 4.5-3.8 4.7-3.6 4.9-3.4 5-3.2 5.2-3.1 5.3-2.9 5.4-2.7 5.4-2.6 5.6-2.5 5.6-2.3 5.7-2.1 5.7-2.1 5.7-1.8 5.8-1.8 5.8-1.7 5.8-1.5 5.8-1.4 5.9-1.3 5.8-1.1 5.9-1.1 5.9-0.9 5.9-0.9 6-0.7 5.9-0.6 5.9-0.5 6-0.4 6-0.4 5.9-0.2 6-0.1 6-0.1 6 0.1 6 0.1 6 0.3 6.1 0.3 6 0.4 6 0.4 6 0.6 6 0.6 6 0.7 6.1 0.8 6 0.8 6 0.9 6 1 6 1 6 1.1 5.9 1.1 6 1.2 6 1.3 5.9 1.3 6 1.3 5.9 1.4 5.9 1.5 5.9 1.5 5.9 1.5 5.9 1.6 5.8 1.7 5.8 1.7 5.8 1.8 5.8 1.8 5.8 1.9 5.7 2 5.7 2 5.7 2 5.7 2.2 5.6 2.2 5.6 2.2 5.5 2.4 5.5 2.3 5.5 2.5 5.5 2.5 5.4 2.7 5.3 2.6 5.3 2.8 5.3 2.8 5.3 2.9 5.2 3 5.1 3 5.1 3.1 5.1 3.3 5 3.2 4.9 3.4 4.9 3.5 4.9 3.5 4.8 3.6 4.7 3.7 4.7 3.8 4.6 3.9 4.5 4 4.5 4 4.5 4.2 4.3 4.2 4.3 4.4 4.1 4.4 4.1 4.5 3.9 4.6 3.8 4.7 3.7 4.8 3.5 4.9 3.3 4.9 3.1 5.1 3 5.1 2.7 5.2 2.6 5.4 2.3 5.3 2 5.5 1.9 5.6 1.5 5.6 1.3 5.8 1 5.8 0.7 5.9 0.4 6 0.1 6.1 -0.3 6.1 -0.6 6.3 -0.9 6.3 -1.3 6.4 -1.7 6.5" fill="none" stroke="#8329b0" stroke-width="5.0" stroke-linejoin="round"/>
<path d="M267.9 1118.8l-3.2-4.9 -3.1-5 -3-5.1 -2.9-5.2 -2.7-5.3 -2.7-5.4 -2.5-5.4 -2.3-5.6 -2.3-5.6 -2.1-5.7 -1.9-5.8 -1.8-5.8 -1.6-5.9 -1.4-5.9 -1.3-5.9 -1-5.9 -0.9-6 -0.7-6 -0.5-6 -0.3-6 -0.1-6 0.2-6 0.3-6 0.5-5.9 0.8-6 0.9-5.9 1-5.9 1.3-5.9 1.3-5.8 1.5-5.8 1.7-5.8 1.8-5.8 1.9-5.8 2-5.7 2.1-5.6 2.2-5.7 2.2-5.6 2.4-5.5 2.4-5.5 2.5-5.5 2.5-5.5 2.7-5.3 2.7-5.4 2.7-5.3 2.9-5.3 2.9-5.2 2.9-5.2 3.1-5.1 3.1-5.1 3.1-5.1 3.3-5 3.3-5 3.3-4.9 3.4-4.9 3.5-4.9 3.5-4.8 3.6-4.7 3.7-4.7 3.7-4.7 3.7-4.7 3.9-4.5 3.8-4.6 4-4.5 3.9-4.5 4.1-4.4 4-4.3 4.2-4.4 4.2-4.2 4.2-4.3 4.3-4.2 4.3-4.1 4.4-4.1 4.4-4.1 4.4-4 4.5-4 4.6-3.9 4.6-3.9 4.6-3.8 4.7-3.8 4.7-3.7 4.8-3.7 4.8-3.7 4.8-3.6 4.9-3.5 4.9-3.6 4.9-3.4 5-3.4 5-3.4 5-3.3 5.1-3.3 5.1-3.2 5.1-3.2 5.2-3.2 5.2-3.1 5.2-3 5.2-3 5.3-2.9 5.3-2.9 5.3-2.9 5.4-2.8 5.3-2.7 5.4-2.8 5.4-2.6 5.5-2.6 5.4-2.6 5.5-2.5 5.5-2.4 5.5-2.5 5.6-2.3 5.5-2.3 5.6-2.3 5.6-2.2 5.6-2.2 5.7-2.1 5.6-2 5.7-2 5.7-2 5.7-1.9 5.7-1.8 5.7-1.8 5.8-1.8 5.8-1.7 5.7-1.6 5.8-1.6 5.8-1.5 5.9-1.5 5.8-1.4 5.8-1.4 5.9-1.3 5.8-1.3 5.9-1.2 5.9-1.2 5.9-1.1 5.9-1 5.9-1 5.9-1 6-0.8 5.9-0.9 5.9-0.7 6-0.8 5.9-0.6 6-0.6 6-0.6 5.9-0.5 6-0.4 6-0.4 6-0.3 5.9-0.3 6-0.2 6-0.1 6-0.1 6 0 6 0 6 0.1 6 0.1 6 0.2 5.9 0.3 6 0.3 6 0.4 6 0.4 6 0.5 6 0.6 5.9 0.6 6 0.7 5.9 0.8 6 0.8 5.9 0.8 5.9 1 6 1 5.9 1 5.9 1.1 5.9 1.2 5.8 1.3 5.9 1.3 5.8 1.4 5.8 1.4 5.8 1.5 5.8 1.6 5.8 1.6 5.7 1.7 5.8 1.8 5.7 1.8 5.7 1.9 5.6 2 5.7 2 5.6 2.1 5.6 2.2 5.5 2.2 5.6 2.4 5.5 2.3 5.5 2.5 5.4 2.5 5.5 2.6 5.3 2.6 5.4 2.8 5.3 2.8 5.3 2.8 5.3 3 5.2 3 5.2 3.1 5.2 3.1 5.1 3.3 5.1 3.3 5 3.4 5 3.4 5 3.5 4.9 3.6 4.9 3.6 4.9 3.6 4.9 3.6 4.9 3.6 4.9 3.6 4.9 3.5 4.9 3.4 5 3.4 5 3.2 5.1 3.2 5.1 3 5.2 2.9 5.2 2.7 5.3 2.5 5.4 2.3 5.5 2.1 5.6 1.9 5.7 1.6 5.8 1.4 6 1.1 6 0.6 6 0.1 5.9-0.6 5.7-1.4 5.7-2.1 5.6-2.5 5.5-2.5 5.5-2.6 5.6-2.5 5.5-2.4 5.5-2.4 5.5-2.4 5.5-2.4 5.5-2.3 5.5-2.3 5.5-2.3 5.6-2.2 5.5-2.3 5.6-2.3 5.6-2.2 5.6-2.3 5.6-2.2 5.6-2.1 5.7-2.1 5.7-2.1 5.7-1.9 5.7-1.8 5.8-1.7 5.8-1.6 5.8-1.5 5.8-1.4 5.8-1.3 5.9-1.2 5.9-1.1 5.9-1 5.9-0.9 5.9-0.8 6-0.7 5.9-0.6 6-0.5 6-0.5 6-0.3 5.9-0.2 6-0.2 6-0.1 6 0 6 0.1 6 0.2 6 0.3 6 0.3 6 0.5 6 0.5 6 0.6 6 0.6 6 0.8 5.9 0.8 6 0.8 5.9 1 6 1 5.9 1.1 5.9 1.2 5.9 1.2 5.9 1.3 5.9 1.4 5.9 1.5 5.8 1.5 5.9 1.5 5.8 1.6 5.8 1.7 5.7 1.8 5.8 1.8 5.7 1.9 5.7 1.9 5.7 2 5.6 2 5.7 2.1 5.6 2.1 5.6 2.2 5.5 2.2 5.5 2.3 5.5 2.4 5.5 2.4 5.4 2.4 5.4 2.5 5.4 2.6 5.3 2.6 5.3 2.7 5.2 2.7 5.3 2.9 5.1 2.9 5.2 2.9 5.1 3.1 5 3.1 5.1 3.2 4.9 3.3 5 3.4 4.9 3.5 4.8 3.5 4.8 3.7 4.8 3.7 4.7 3.9 4.7 3.9 4.6 4.1 4.5 4.1 4.5 4.2 4.4 4.4 4.2 4.4 4.2 4.5 4.1 4.6 3.9 4.6 3.9 4.8 3.7 4.8 3.5 4.9 3.5 5 3.2 5 3.1 5.2 2.9 5.1 2.8 5.3 2.5 5.3 2.4 5.4 2.2 5.5 1.9 5.5 1.7 5.6 1.5 5.6 1.3 5.7 1 5.7 0.8 5.8 0.5 5.8 0.3 5.9 0 5.9 -0.3 6 -0.6 6 -0.9 6.1 -1.2 6.1 -1.5 6.1 -1.8 6.1 -2.2 6.2" fill="none" stroke="#ff0000" stroke-width="5.3" stroke-linejoin="round"/>
<path d="M257.2 1093.4l-2.5-6.1 -2.4-6.1 -2-6 -1.9-6.1 -1.6-6 -1.4-6.1 -1.2-5.9 -1-6 -0.8-6 -0.5-5.9 -0.4-5.9 -0.2-5.9 0-5.9 0.2-5.8 0.3-5.9 0.5-5.8 0.7-5.7 0.8-5.8 1-5.7 1.1-5.7 1.3-5.7 1.4-5.7 1.6-5.6 1.7-5.6 1.8-5.6 1.9-5.5 2-5.5 2.2-5.5 2.2-5.5 2.3-5.4 2.5-5.4 2.5-5.4 2.6-5.3 2.7-5.3 2.7-5.3 2.9-5.3 2.8-5.2 3-5.2 3-5.1 3-5.1 3.2-5.1 3.1-5.1 3.3-5 3.2-5 3.4-4.9 3.4-5 3.4-4.8 3.5-4.9 3.5-4.8 3.6-4.8 3.7-4.8 3.7-4.7 3.7-4.7 3.8-4.7 3.8-4.6 3.9-4.6 3.9-4.6 4-4.5 4-4.5 4-4.5 4.1-4.4 4.1-4.4 4.2-4.4 4.2-4.3 4.3-4.3 4.3-4.3 4.3-4.3 4.3-4.2 4.4-4.1 4.5-4.2 4.4-4.1 4.5-4.1 4.5-4 4.6-4 4.6-4 4.6-4 4.7-3.9 4.6-3.9 4.7-3.8 4.8-3.9 4.7-3.7 4.8-3.8 4.8-3.7 4.8-3.7 4.9-3.7 4.9-3.6 4.9-3.6 4.9-3.5 4.9-3.6 5-3.5 4.9-3.4 5-3.5 5-3.4 5.1-3.3 5-3.3 5.1-3.3 5.1-3.3 5-3.3 5.2-3.2 5.1-3.1 5.1-3.2 5.2-3.1 5.2-3 5.2-3.1 5.2-3 5.2-3 5.3-2.9 5.2-2.9 5.3-2.9 5.3-2.8 5.3-2.9 5.3-2.7 5.4-2.8 5.3-2.7 5.4-2.7 5.4-2.7 5.4-2.6 5.4-2.6 5.4-2.5 5.4-2.6 5.5-2.4 5.5-2.5 5.4-2.4 5.5-2.4 5.5-2.4 5.5-2.3 5.6-2.3 5.5-2.3 5.6-2.3 5.5-2.2 5.6-2.1 5.6-2.2 5.6-2.1 5.6-2.1 5.6-2 5.7-2 5.6-2 5.7-2 5.6-1.9 5.7-1.9 5.7-1.8 5.7-1.9 5.7-1.8 5.7-1.7 5.7-1.8 5.8-1.7 5.7-1.6 5.8-1.7 5.7-1.6 5.8-1.5 5.8-1.6 5.8-1.5 5.8-1.5 5.8-1.4 5.8-1.4 5.8-1.4 5.8-1.4 5.9-1.3 5.8-1.3 5.8-1.3 5.9-1.2 5.9-1.2 5.8-1.2 5.9-1.1 5.9-1.1 5.9-1.1 5.9-1 5.9-1 5.9-1 5.9-1 5.9-0.9 5.9-0.9 6-0.8 5.9-0.8 5.9-0.8 6-0.8 5.9-0.7 6-0.7 5.9-0.7 6-0.6 5.9-0.6 6-0.6 6-0.6 5.9-0.5 6-0.5 6-0.4 6-0.4 6-0.4 5.9-0.4 6-0.3 6-0.3 6-0.3 6-0.2 6-0.3 6-0.1 6-0.2 6-0.1 6-0.1 6 0 6-0.1 6 0.1 6 0 6 0.1 6 0.1 6 0.1 6 0.1 6 0.2 6 0.3 6 0.2 6 0.3 6 0.3 5.9 0.4 6 0.3 6 0.5 6 0.4 6 0.5 6 0.5 6 0.5 5.9 0.6 6 0.6 6 0.6 5.9 0.7 6 0.7 6 0.7 5.9 0.8 6 0.8 5.9 0.8 5.9 0.8 6 0.9 5.9 0.9 5.9 1 6 1 5.9 1 5.9 1 5.9 1.1 5.9 1.1 5.9 1.2 5.9 1.2 5.8 1.2 5.9 1.2 5.9 1.3 5.8 1.3 5.9 1.3 5.8 1.4 5.9 1.4 5.8 1.5 5.8 1.4 5.8 1.5 5.8 1.6 5.8 1.5 5.8 1.6 5.8 1.7 5.8 1.7 5.7 1.7 5.8 1.7 5.7 1.8 5.8 1.8 5.7 1.8 5.7 1.9 5.7 1.9 5.7 1.9 5.7 2 5.7 2 5.6 2 5.7 2.1 5.6 2.1 5.6 2.2 5.6 2.1 5.6 2.2 5.6 2.3 5.6 2.3 5.6 2.3 5.5 2.3 5.6 2.4 5.5 2.4 5.5 2.5 5.5 2.4 5.5 2.5 5.5 2.6 5.4 2.6 5.5 2.6 5.4 2.7 5.4 2.6 5.4 2.8 5.4 2.7 5.4 2.8 5.3 2.8 5.4 2.9 5.3 2.9 5.3 2.9 5.3 3 5.3 3 5.3 3 5.2 3.1 5.2 3.1 5.2 3.2 5.2 3.2 5.1 3.2 5.1 3.2 5.1 3.3 5.1 3.4 5 3.4 5 3.4 5 3.4 4.9 3.5 4.9 3.6 4.9 3.6 4.8 3.6 4.8 3.6 4.8 3.8 4.7 3.7 4.6 3.8 4.6 3.8 4.6 3.9 4.5 3.9 4.5 4 4.4 4 4.4 4.1 4.3 4.1 4.3 4.2 4.2 4.2 4.2 4.2 4.1 4.3 4.1 4.4 4 4.3 3.9 4.5 3.9 4.5 3.8 4.5 3.7 4.6 3.7 4.6 3.6 4.7 3.6 4.8 3.5 4.8 3.4 4.8 3.3 4.9 3.3 5 3.1 5 3.1 5 3 5.1 2.9 5.2 2.9 5.2 2.7 5.2 2.6 5.3 2.4 5.4 2.4 5.3 2.2 5.5 2.1 5.5 2 5.5 1.8 5.5 1.7 5.7 1.5 5.6 1.4 5.7 1.2 5.8 1.1 5.7 0.8 5.9 0.7 5.8 0.6 5.9 0.3 5.9 0.2 6 -0.1 6 -0.2 6.1 -0.5 6.1 -0.7 6.1 -0.8 6.2 -1.1 6.1 -1.4 6.3 -1.5 6.2 -1.8 6.3" fill="none" stroke="#ff0000" stroke-width="5.0" stroke-linejoin="round" stroke-dasharray="14 7.7"/>
<rect x="852.4" y="1223.4" width="184.8" height="9.6" rx="1.2" fill="#70d848"/>
<rect x="1060.8" y="1223.4" width="184.8" height="9.6" rx="1.2" fill="#00b450"/>
<rect x="1270.8" y="1223.4" width="184.8" height="9.6" rx="1.2" fill="#00b6f8"/>
<rect x="1482.1" y="1223.4" width="184.8" height="9.6" rx="1.2" fill="#8329b0"/>
<rect x="1692.2" y="1223.4" width="184.8" height="9.6" rx="1.2" fill="#ff0000"/>
<rect x="1902" y="1223.4" width="184.8" height="9.6" rx="1.2" fill="#ff7a30"/>
<path d="M1481.2 1310.8h185" stroke="#8329b0" stroke-width="9" stroke-dasharray="26.5 9.8" fill="none"/>
<path d="M1693.7 1310.8h185" stroke="#ff0000" stroke-width="9" stroke-dasharray="26.5 9.8" fill="none"/>
<path d="M1905.5 1310.8h185" stroke="#ff7a30" stroke-width="9" stroke-dasharray="26.5 9.8" fill="none"/>
<text transform="translate(926.6 1194.0) scale(1 1.03)" font-size="76.50">0</text>
<text transform="translate(1135.4 1194.0) scale(1 1.03)" font-size="76.50">8</text>
<text transform="translate(1324.7 1194.0) scale(1 1.03)" font-size="76.50">16</text>
<text transform="translate(1529.0 1194.0) scale(1 1.03)" font-size="76.50">24</text>
<text transform="translate(1739.5 1194.0) scale(1 1.03)" font-size="76.50">32</text>
<text transform="translate(1945.9 1194.0) scale(1 1.03)" font-size="76.50">36</text>
<text transform="translate(304.6 1245.9) scale(1 1.03)" font-size="75.89">AI-FEM</text>
<text transform="translate(304.6 1343.8) scale(1 1.03)" font-size="75.40">ASME Section XI</text>
<text transform="translate(1930.4 1408.1) scale(1 1.03)" font-size="67.85">(x1000 cycles)</text>
<text transform="translate(266.6 243.1) scale(1 1.03)" font-size="75.86">AI-FEM</text>
<text transform="translate(211.9 333.6) scale(1 1.03)" font-size="75.61">Crack depth</text>
<text transform="translate(948.3 142.0) scale(1 1.03)" font-size="67.76">ASME Section XI</text>
<text transform="translate(1028.1 223.8) scale(1 1.03)" font-size="68.41">Crack depth</text>
<g class="eq" stroke="#000" stroke-width="0.4" stroke-linejoin="round"><text transform="translate(1991.7 152.9) scale(1.040 1.151)" font-family="'DejaVu Serif Condensed',serif" font-size="60" font-style="italic">R</text><text transform="translate(2033.1 168.7) scale(1.099 0.847)" font-family="'DejaVu Serif Condensed',serif" font-size="60" font-style="italic">m</text><text transform="translate(2096.7 154.0) skewX(-9.40) scale(1.120 1.366)" font-family="'DejaVu Serif',serif" font-size="60">/</text><text transform="translate(2133.8 151.9) scale(1.258 1.058)" font-family="'DejaVu Serif Condensed',serif" font-size="60" font-style="italic">t</text> <text transform="translate(2186.5 157.6) scale(1.634 1.353)" font-family="'Liberation Serif',serif" font-size="60">=</text> <text transform="translate(2261.4 152.4) scale(1.091 1.188)" font-family="'DejaVu Serif',serif" font-size="60">5</text></g>
<g class="eq" stroke="#000" stroke-width="0.4" stroke-linejoin="round"><text transform="translate(1982.2 242.2) scale(1.064 1.100)" font-family="'DejaVu Serif Condensed',serif" font-size="60" font-style="italic">c</text><text transform="translate(2024.0 244.8) skewX(-8.79) scale(1.128 1.376)" font-family="'DejaVu Serif',serif" font-size="60">/</text><text transform="translate(2062.4 242.2) scale(1.363 1.100)" font-family="'DejaVu Serif Condensed',serif" font-size="60" font-style="italic">a</text> <text transform="translate(2126.0 247.9) scale(1.638 1.353)" font-family="'Liberation Serif',serif" font-size="60">=</text> <text transform="translate(2203.6 242.7) scale(1.093 1.127)" font-family="'DejaVu Serif',serif" font-size="60">3</text></g>
</g>
<g id="panel-b">
<path d="M43.0 2027.7l10-4 10.1-4 10-3.9 10-3.9 10.1-3.9 10-3.8 10.1-3.8 10-3.8 10-3.7 10.1-3.7 10-3.6 10-3.6 10.1-3.6 10-3.5 10.1-3.5 10-3.4 10-3.4 10.1-3.4 10-3.3 10-3.3 10.1-3.2 10-3.2 10-3.2 10.1-3.2 10-3.1 10.1-3 10-3.1 10-2.9 10.1-3 10-2.9 10-2.9 10.1-2.8 10-2.8 10-2.8 10.1-2.7 10-2.7 10.1-2.7 10-2.6 10-2.6 10.1-2.5 10-2.5 10-2.5 10.1-2.4 10-2.4 10.1-2.4 10-2.3 10-2.3 10.1-2.3 10-2.2 10-2.2 10.1-2.1 10-2.1 10-2.1 10.1-2.1 10-2 10.1-1.9 10-2 10-1.9 10.1-1.8 10-1.9 10-1.8 10.1-1.7 10-1.7 10-1.7 10.1-1.7 10-1.6 10.1-1.6 10-1.5 10-1.5 10.1-1.5 10-1.5 10-1.4 10.1-1.3 10-1.4 10.1-1.3 10-1.3 10-1.2 10.1-1.2 10-1.2 10-1.1 10.1-1.1 10-1.1 10-1 10.1-1 10-0.9 10.1-1 10-0.9 10-0.8 10.1-0.8 10-0.8 10-0.8 10.1-0.7 10-0.7 10-0.6 10.1-0.7 10-0.5 10.1-0.6 10-0.5 10-0.5 10.1-0.4 10-0.5 10-0.3 10.1-0.4 10-0.3 10.1-0.3 10-0.2 10-0.2 10.1-0.2 10-0.2 10-0.1 10.1-0.1 10 0 10 0 10.1 0 10 0.1 10.1 0.1 10 0.1 10 0.1 10.1 0.2 10 0.3 10 0.2 10.1 0.3 10 0.3 10 0.4 10.1 0.4 10 0.4 10.1 0.5 10 0.5 10 0.5 10.1 0.5 10 0.6 10 0.7 10.1 0.6 10 0.7 10.1 0.7 10 0.8 10 0.8 10.1 0.8 10 0.9 10 0.9 10.1 0.9 10 1 10 1 10.1 1 10 1 10.1 1.1 10 1.2 10 1.1 10.1 1.2 10 1.3 10 1.2 10.1 1.3 10 1.4 10 1.3 10.1 1.4 10 1.5 10.1 1.4 10 1.5 10 1.6 10.1 1.5 10 1.6 10 1.7 10.1 1.6 10 1.7 10.1 1.8 10 1.7 10 1.8 10.1 1.9 10 1.8 10 2 10.1 1.9 10 2 10 2 10.1 2 10 2.1 10.1 2.1 10 2.2 10 2.1 10.1 2.2 10 2.3 10 2.3 10.1 2.3 10 2.3 10 2.4 10.1 2.5 10 2.4 10.1 2.5 10 2.5 10 2.6 10.1 2.6 10 2.6 10 2.7 10.1 2.7 10 2.7 10.1 2.8 10 2.8 10 2.8 10.1 2.9 10 2.9 10 2.9 10.1 3 10 3 10 3.1 10.1 3.1 10 3.1 10.1 3.1 10 3.2 10 3.3 10.1 3.2 10 3.3 10 3.4 10.1 3.3 10 3.4 10 3.5 10.1 3.4 10 3.6 10.1 3.5 10 3.6 10 3.6 10.1 3.7 10 3.7 10 3.7 10.1 3.8 10 3.8 10.1 3.8 10 3.9 10 3.9 10.1 4 10 4" fill="none" stroke="#000" stroke-width="4.5" stroke-linejoin="round"/>
<path d="M43.0 2791.3l10-5.8 10.1-5.7 10-5.7 10-5.6 10.1-5.5 10-5.5 10.1-5.4 10-5.4 10-5.2 10.1-5.3 10-5.1 10-5.1 10.1-5.1 10-4.9 10.1-4.9 10-4.9 10-4.8 10.1-4.7 10-4.7 10-4.6 10.1-4.5 10-4.5 10-4.5 10.1-4.3 10-4.3 10.1-4.3 10-4.2 10-4.2 10.1-4 10-4.1 10-3.9 10.1-4 10-3.8 10-3.8 10.1-3.8 10-3.7 10.1-3.6 10-3.6 10-3.5 10.1-3.5 10-3.5 10-3.3 10.1-3.4 10-3.2 10.1-3.2 10-3.2 10-3.1 10.1-3.1 10-3 10-2.9 10.1-3 10-2.8 10-2.8 10.1-2.8 10-2.7 10.1-2.6 10-2.6 10-2.6 10.1-2.5 10-2.4 10-2.5 10.1-2.3 10-2.3 10-2.3 10.1-2.2 10-2.2 10.1-2.1 10-2.1 10-2 10.1-2 10-1.9 10-1.9 10.1-1.8 10-1.8 10.1-1.7 10-1.7 10-1.7 10.1-1.6 10-1.5 10-1.5 10.1-1.5 10-1.4 10-1.4 10.1-1.3 10-1.3 10.1-1.2 10-1.2 10-1.1 10.1-1.1 10-1.1 10-1 10.1-1 10-0.9 10-0.9 10.1-0.8 10-0.8 10.1-0.7 10-0.7 10-0.7 10.1-0.6 10-0.5 10-0.6 10.1-0.4 10-0.5 10.1-0.4 10-0.3 10-0.3 10.1-0.3 10-0.2 10-0.1 10.1-0.2 10-0.1 10 0 10.1 0 10 0.1 10.1 0.1 10 0.1 10 0.2 10.1 0.2 10 0.3 10 0.3 10.1 0.3 10 0.4 10 0.5 10.1 0.5 10 0.5 10.1 0.6 10 0.6 10 0.7 10.1 0.7 10 0.7 10 0.8 10.1 0.9 10 0.9 10.1 0.9 10 1 10 1 10.1 1 10 1.1 10 1.2 10.1 1.2 10 1.2 10 1.3 10.1 1.4 10 1.3 10.1 1.5 10 1.4 10 1.5 10.1 1.6 10 1.6 10 1.7 10.1 1.7 10 1.7 10 1.8 10.1 1.8 10 1.9 10.1 1.9 10 2 10 2 10.1 2.1 10 2.1 10 2.2 10.1 2.2 10 2.3 10.1 2.3 10 2.3 10 2.4 10.1 2.5 10 2.5 10 2.5 10.1 2.6 10 2.7 10 2.7 10.1 2.7 10 2.8 10.1 2.9 10 2.9 10 2.9 10.1 3 10 3 10 3.1 10.1 3.2 10 3.2 10 3.3 10.1 3.3 10 3.3 10.1 3.4 10 3.5 10 3.5 10.1 3.6 10 3.6 10 3.7 10.1 3.7 10 3.8 10.1 3.8 10 3.9 10 3.9 10.1 4 10 4.1 10 4.1 10.1 4.2 10 4.2 10 4.3 10.1 4.3 10 4.4 10.1 4.5 10 4.5 10 4.6 10.1 4.6 10 4.7 10 4.7 10.1 4.8 10 4.9 10 4.9 10.1 5 10 5 10.1 5.2 10 5.1 10 5.3 10.1 5.2 10 5.4 10 5.4 10.1 5.5 10 5.5 10.1 5.7 10 5.6 10 5.8 10.1 5.8 10 5.8" fill="none" stroke="#000" stroke-width="5.5" stroke-linejoin="round"/>
<path d="M1176.6 1731.7V2538" fill="none" stroke="#7f7a7a" stroke-width="5.2" stroke-dasharray="6 16.6 43.1 16.6"/>
<path d="M645.4 1774.5L832.6 2560.4" fill="none" stroke="#64748a" stroke-width="4.2" stroke-dasharray="5 17.3 43 17.3"/>
<path d="M618.3 2557.1l-2-6 -1.8-6 -1.5-6 -1.3-6 -1-6.1 -0.7-6 -0.6-6 -0.3-6.1 0-6 0.1-5.9 0.4-6 0.6-5.9 0.9-5.9 1-5.9 1.2-5.8 1.5-5.8 1.6-5.7 1.9-5.7 2-5.6 2.2-5.5 2.4-5.5 2.6-5.4 2.8-5.3 2.9-5.3 3.1-5.1 3.3-5.1 3.4-5 3.6-4.8 3.7-4.8 3.9-4.7 4-4.5 4.2-4.5 4.2-4.3 4.4-4.3 4.4-4.2 4.5-4 4.6-4 4.7-3.8 4.7-3.8 4.8-3.6 4.9-3.5 5-3.3 5.1-3.1 5.2-3 5.3-2.7 5.3-2.6 5.5-2.5 5.5-2.2 5.6-2.1 5.6-2 5.8-1.7 5.7-1.6 5.8-1.5 5.9-1.3 5.9-1.1 6-1 5.9-0.9 6-0.7 6-0.5 6.1-0.4 6-0.3 6-0.1 6.1 0 6 0.1 6.1 0.3 6 0.5 6 0.6 6 0.7 6 0.9 5.9 1 6 1.2 5.9 1.3 5.8 1.4 5.9 1.6 5.7 1.7 5.8 1.9 5.7 2 5.6 2.1 5.6 2.3 5.5 2.5 5.4 2.6 5.4 2.7 5.3 2.8 5.2 3 5.2 3.2 5 3.3 5 3.4 4.9 3.5 4.8 3.8 4.7 3.8 4.5 4 4.5 4.1 4.3 4.2 4.2 4.4 4.1 4.5 3.9 4.6 3.8 4.7 3.5 4.9 3.5 4.9 3.2 5.1 3.1 5.1 2.9 5.3 2.6 5.3 2.5 5.5 2.2 5.5 2.1 5.6 1.7 5.7 1.6 5.8 1.3 5.9 1.1 5.9 0.8 6 0.5 6.1 0.2 6.1 0 6.3" fill="none" stroke="#70d848" stroke-width="5.2" stroke-linejoin="round"/>
<path d="M1330.0 2489.7l0.4-6.4 0.8-6.3 1.1-6.2 1.4-6 1.7-5.9 2-5.8 2.3-5.7 2.5-5.5 2.8-5.3 3-5.2 3.3-5 3.4-4.9 3.8-4.7 3.9-4.5 4.1-4.3 4.3-4.1 4.5-3.9 4.7-3.6 4.8-3.5 5-3.3 5.1-3 5.2-2.8 5.4-2.6 5.5-2.4 5.6-2.2 5.7-1.9 5.7-1.7 5.9-1.5 5.9-1.3 5.9-1.1 6-0.8 6-0.6 6.1-0.4 6.1-0.1 6 0 6.1 0.3 6.1 0.6 6 0.7 6 1 6 1.2 5.9 1.5 5.8 1.6 5.8 1.9 5.7 2.1 5.6 2.4 5.4 2.5 5.4 2.7 5.3 3 5.1 3.1 5 3.4 4.8 3.5 4.7 3.7 4.5 3.9 4.3 4.1 4.2 4.3 3.9 4.4 3.7 4.6 3.5 4.8 3.3 4.9 3.1 5.1 2.8 5.3 2.6 5.3 2.3 5.5 2.1 5.6 1.8 5.7 1.5 5.8 1.3 5.8 1 6 0.6 6.1 0.4 6.1 0.1 6.1 -0.3 6.2 -0.5 6.3 -1 6.3 -1.2 6.3" fill="none" stroke="#70d848" stroke-width="5.2" stroke-linejoin="round"/>
<path d="M561.4 2572.6l-1.5-6 -1.3-6 -1-6 -0.9-6.1 -0.7-6 -0.5-6 -0.4-6 -0.1-6.1 0-6 0.2-6 0.3-6 0.5-5.9 0.7-6 0.9-5.9 1-5.9 1.2-5.9 1.3-5.9 1.5-5.8 1.6-5.8 1.8-5.7 1.9-5.7 2.1-5.7 2.2-5.6 2.3-5.6 2.5-5.5 2.5-5.5 2.8-5.4 2.8-5.3 3-5.3 3.1-5.2 3.2-5.2 3.3-5 3.4-5.1 3.6-4.9 3.6-4.8 3.8-4.8 3.8-4.7 4-4.6 4-4.6 4.2-4.4 4.2-4.3 4.4-4.3 4.4-4.2 4.5-4 4.6-4 4.7-3.9 4.7-3.7 4.8-3.7 5-3.5 4.9-3.5 5.1-3.3 5.1-3.2 5.2-3.1 5.2-3 5.3-2.8 5.4-2.7 5.4-2.6 5.5-2.5 5.5-2.4 5.6-2.2 5.7-2.1 5.6-1.9 5.7-1.8 5.8-1.7 5.8-1.5 5.8-1.4 5.9-1.3 5.9-1.1 5.9-1 5.9-0.8 6-0.8 6-0.6 5.9-0.4 6.1-0.4 6-0.2 6 0 6 0 6.1 0.2 6 0.3 6 0.4 6.1 0.6 6 0.6 6 0.8 6 0.9 6 1.1 5.9 1.1 6 1.3 5.9 1.4 5.9 1.5 5.8 1.6 5.9 1.8 5.8 1.8 5.7 2 5.7 2 5.7 2.2 5.7 2.3 5.5 2.4 5.6 2.5 5.4 2.6 5.5 2.8 5.3 2.8 5.3 2.9 5.3 3.1 5.2 3.1 5.1 3.3 5 3.3 4.9 3.4 4.9 3.6 4.8 3.6 4.7 3.8 4.7 3.8 4.5 3.9 4.5 4.1 4.3 4.1 4.3 4.2 4.2 4.3 4 4.4 4 4.5 3.9 4.6 3.7 4.6 3.6 4.8 3.6 4.8 3.4 4.9 3.3 5.1 3.1 5.1 3.1 5.1 2.9 5.3 2.8 5.3 2.6 5.5 2.5 5.5 2.4 5.5 2.2 5.7 2.1 5.7 1.9 5.9 1.8 5.8 1.7 6 1.5 6 1.3 6.2 1.2 6.1 1 6.3" fill="none" stroke="#00b450" stroke-width="6.0" stroke-linejoin="round"/>
<path d="M1294.4 2489.4l0.4-6.4 0.8-6.3 1-6.3 1.2-6.1 1.5-6.1 1.8-5.9 2-5.8 2.2-5.7 2.4-5.6 2.6-5.5 2.9-5.3 3-5.2 3.3-5.1 3.4-5 3.6-4.7 3.8-4.7 4-4.5 4.1-4.3 4.3-4.2 4.4-4 4.6-3.9 4.7-3.6 4.9-3.5 4.9-3.4 5.1-3.1 5.2-3 5.4-2.7 5.4-2.6 5.5-2.4 5.6-2.3 5.6-2 5.8-1.8 5.8-1.7 5.9-1.5 5.9-1.3 5.9-1.1 6-0.9 6.1-0.7 6-0.5 6.1-0.4 6.1-0.1 6.1 0 6.1 0.2 6 0.5 6.1 0.6 6 0.8 6 1 6 1.3 5.9 1.4 5.9 1.6 5.8 1.7 5.8 2 5.7 2.2 5.6 2.3 5.6 2.5 5.4 2.6 5.4 2.8 5.3 3 5.2 3.2 5.1 3.3 5 3.4 4.9 3.6 4.7 3.8 4.6 3.9 4.5 4 4.4 4.2 4.2 4.3 4 4.4 3.9 4.5 3.8 4.7 3.5 4.8 3.5 4.9 3.2 5 3 5.1 2.9 5.3 2.7 5.3 2.4 5.5 2.3 5.5 2 5.6 1.9 5.7 1.6 5.8 1.4 5.9 1.1 6 0.9 6 0.7 6.1 0.4 6.2 0.2 6.2 -0.1 6.3 -0.4 6.4 -0.6 6.4 -1 6.5" fill="none" stroke="#00b450" stroke-width="6.0" stroke-linejoin="round"/>
<path d="M528.6 2581.5l-1.8-6.1 -1.6-6.1 -1.4-6.1 -1.2-6.1 -1-6.1 -0.9-6 -0.7-6.1 -0.5-6.1 -0.3-6 -0.2-6 0-6.1 0.2-6 0.3-5.9 0.5-6 0.6-5.9 0.8-5.9 0.9-5.9 1.1-5.8 1.2-5.8 1.4-5.8 1.5-5.8 1.7-5.7 1.8-5.6 1.9-5.6 2.1-5.6 2.2-5.6 2.3-5.4 2.4-5.5 2.6-5.4 2.7-5.3 2.8-5.3 2.9-5.2 3.1-5.2 3.1-5.1 3.3-5 3.3-5 3.5-4.9 3.5-4.8 3.7-4.8 3.8-4.7 3.8-4.6 4-4.6 4-4.5 4.1-4.4 4.2-4.3 4.3-4.3 4.4-4.2 4.5-4 4.5-4 4.6-4 4.7-3.8 4.8-3.8 4.8-3.6 4.9-3.6 5-3.5 5-3.3 5.1-3.3 5.2-3.2 5.2-3.1 5.2-3 5.3-2.9 5.4-2.8 5.4-2.7 5.5-2.5 5.5-2.5 5.5-2.4 5.6-2.2 5.6-2.2 5.7-2 5.7-1.9 5.7-1.8 5.8-1.7 5.8-1.6 5.8-1.4 5.8-1.3 5.9-1.3 5.8-1.1 5.9-0.9 5.9-0.9 6-0.7 5.9-0.7 5.9-0.5 6-0.4 6-0.3 5.9-0.2 6-0.1 6 0.1 5.9 0.1 6 0.3 6 0.4 5.9 0.5 6 0.5 5.9 0.7 6 0.9 5.9 0.9 5.9 1 5.9 1.1 5.8 1.2 5.9 1.4 5.8 1.4 5.8 1.5 5.8 1.7 5.7 1.7 5.7 1.9 5.7 1.9 5.7 2.1 5.6 2.1 5.6 2.3 5.5 2.3 5.5 2.5 5.5 2.5 5.4 2.7 5.3 2.7 5.3 2.9 5.3 2.9 5.2 3 5.2 3.2 5.1 3.2 5 3.3 5 3.4 4.9 3.5 4.9 3.6 4.8 3.6 4.7 3.8 4.7 3.8 4.5 4 4.5 4 4.5 4.1 4.3 4.2 4.3 4.2 4.2 4.4 4.1 4.4 4 4.5 3.9 4.5 3.8 4.7 3.8 4.7 3.6 4.8 3.5 4.8 3.5 5 3.3 5 3.2 5 3.2 5.1 3 5.2 2.9 5.3 2.8 5.3 2.6 5.3 2.6 5.5 2.4 5.5 2.3 5.5 2.2 5.6 2.1 5.6 1.9 5.8 1.8 5.7 1.7 5.8 1.5 5.9 1.4 5.9 1.3 5.9 1.1 6" fill="none" stroke="#00b6f8" stroke-width="6.4" stroke-linejoin="round"/>
<path d="M1272.6 2487.7l0.7-5.8 0.9-5.9 1.2-5.9 1.3-5.8 1.6-5.9 1.7-5.8 1.9-5.7 2.2-5.8 2.3-5.6 2.5-5.6 2.6-5.6 2.9-5.4 3-5.4 3.2-5.3 3.3-5.1 3.5-5 3.7-5 3.8-4.7 3.9-4.7 4.1-4.4 4.3-4.3 4.3-4.2 4.6-3.9 4.6-3.8 4.8-3.6 4.8-3.3 5.1-3.2 5.1-3 5.2-2.8 5.3-2.7 5.4-2.4 5.5-2.3 5.5-2.1 5.7-1.9 5.7-1.7 5.8-1.5 5.8-1.4 5.9-1.2 5.9-1.1 6-0.9 6-0.7 6-0.5 6.1-0.4 6.1-0.2 6.1-0.1 6.1 0.1 6.1 0.2 6.1 0.4 6.1 0.6 6 0.7 6.1 0.8 6 1 6 1.1 6 1.3 6 1.5 5.8 1.6 5.9 1.7 5.8 1.9 5.7 2 5.7 2.2 5.6 2.3 5.6 2.4 5.4 2.6 5.4 2.8 5.3 2.8 5.2 3.1 5.1 3.1 5.1 3.3 4.9 3.5 4.8 3.6 4.7 3.7 4.5 3.8 4.5 4 4.3 4.2 4.2 4.2 4.1 4.4 3.9 4.6 3.7 4.6 3.6 4.8 3.5 5 3.3 5 3.1 5.2 3 5.3 2.8 5.4 2.5 5.5 2.4 5.5 2.2 5.7 2 5.7 1.8 5.8 1.6 5.8 1.4 5.9 1.1 6 0.9 6 0.7 6 0.4 6 0.2 6.1 -0.1 6.1 -0.3 6.1 -0.6 6 -0.9 6.1 -1.1 6.1" fill="none" stroke="#00b6f8" stroke-width="6.4" stroke-linejoin="round"/>
<path d="M525.3 2582.2l-0.9-6.6 -0.7-6.5 -0.5-6.5 -0.3-6.4 -0.1-6.3 0.1-6.2 0.2-6.2 0.5-6.1 0.6-6 0.8-6 1-5.9 1.1-5.8 1.4-5.8 1.4-5.6 1.7-5.6 1.8-5.6 1.9-5.5 2.1-5.4 2.2-5.3 2.4-5.3 2.5-5.2 2.7-5.2 2.8-5 2.9-5 3.1-5 3.1-4.9 3.3-4.8 3.4-4.7 3.5-4.7 3.7-4.7 3.7-4.5 3.8-4.5 4-4.5 4-4.4 4.1-4.3 4.2-4.2 4.3-4.2 4.4-4.2 4.5-4 4.5-4.1 4.6-3.9 4.7-3.9 4.7-3.9 4.8-3.7 4.9-3.8 4.9-3.6 5-3.7 5-3.5 5-3.5 5.1-3.5 5.2-3.3 5.2-3.4 5.2-3.3 5.2-3.2 5.3-3.2 5.3-3.1 5.3-3 5.3-3.1 5.3-2.9 5.4-2.9 5.3-2.9 5.4-2.8 5.4-2.7 5.5-2.7 5.4-2.7 5.5-2.6 5.4-2.6 5.5-2.5 5.5-2.4 5.6-2.4 5.5-2.4 5.6-2.3 5.5-2.2 5.6-2.3 5.6-2.1 5.6-2.1 5.7-2.1 5.6-2 5.7-2 5.6-1.9 5.7-1.9 5.7-1.9 5.7-1.8 5.7-1.7 5.8-1.7 5.7-1.7 5.8-1.6 5.8-1.6 5.7-1.5 5.8-1.5 5.8-1.5 5.8-1.4 5.9-1.4 5.8-1.3 5.8-1.3 5.9-1.2 5.9-1.2 5.8-1.2 5.9-1.1 5.9-1.1 5.9-1 5.9-1 5.9-1 5.9-0.9 6-0.9 5.9-0.9 6-0.8 5.9-0.8 6-0.7 5.9-0.7 6-0.7 6-0.6 6-0.6 6-0.6 6-0.5 6-0.5 6-0.5 6-0.4 6-0.4 6-0.4 6-0.3 6-0.3 6.1-0.2 6-0.3 6-0.1 6.1-0.2 6-0.1 6-0.1 6.1 0 6-0.1 6.1 0.1 6 0 6 0.1 6.1 0.2 6 0.1 6 0.3 6.1 0.2 6 0.3 6 0.3 6.1 0.4 6 0.4 6 0.4 6 0.5 6.1 0.5 6 0.6 6 0.6 6 0.6 6 0.7 6 0.7 6 0.8 5.9 0.8 6 0.8 6 0.9 5.9 0.9 6 1 5.9 1 6 1 5.9 1.1 5.9 1.1 5.9 1.2 5.9 1.2 5.9 1.3 5.9 1.3 5.8 1.4 5.9 1.4 5.8 1.4 5.9 1.5 5.8 1.5 5.8 1.6 5.8 1.6 5.8 1.7 5.8 1.7 5.7 1.8 5.8 1.8 5.7 1.8 5.7 1.9 5.7 2 5.7 1.9 5.7 2.1 5.6 2.1 5.7 2.1 5.6 2.2 5.6 2.2 5.6 2.3 5.6 2.3 5.5 2.4 5.5 2.4 5.6 2.5 5.5 2.5 5.4 2.6 5.5 2.6 5.4 2.7 5.4 2.8 5.4 2.7 5.4 2.9 5.4 2.8 5.3 3 5.3 3 5.3 3 5.2 3.1 5.2 3.2 5.1 3.2 5.1 3.3 5.1 3.3 5 3.4 5 3.5 4.9 3.5 4.8 3.6 4.8 3.6 4.7 3.7 4.6 3.8 4.6 3.9 4.5 3.9 4.4 4 4.3 4 4.2 4.2 4.2 4.2 4.1 4.3 3.9 4.3 3.9 4.4 3.8 4.6 3.6 4.5 3.6 4.7 3.4 4.7 3.3 4.9 3.2 4.9 3.1 4.9 2.9 5.1 2.8 5.1 2.6 5.2 2.5 5.3 2.4 5.4 2.2 5.5 2 5.5 1.9 5.7 1.7 5.7 1.5 5.8 1.3 5.9 1.2 6 1 6 0.8 6.2 0.6 6.3 0.4 6.3 0.2 6.4 -0.1 6.5 -0.2 6.6 -0.4 6.7" fill="none" stroke="#00b6f8" stroke-width="5.8" stroke-linejoin="round" stroke-linecap="round" stroke-dasharray="9.2 12.8"/>
<path d="M494.5 2603.1l-2.3-5.5 -2.2-5.6 -2-5.7 -1.9-5.7 -1.8-5.7 -1.7-5.8 -1.6-5.9 -1.5-5.8 -1.3-5.9 -1.2-5.9 -1-6 -1-6 -0.8-6 -0.6-6 -0.5-6 -0.4-6 -0.3-6 -0.1-6 0.1-6 0.2-6 0.4-6 0.5-6 0.6-5.9 0.9-5.9 1-5.9 1.1-5.9 1.3-5.8 1.5-5.8 1.7-5.7 1.8-5.7 2-5.6 2.1-5.6 2.3-5.5 2.5-5.5 2.6-5.4 2.7-5.4 2.9-5.3 2.9-5.3 3.1-5.2 3.1-5.2 3.3-5.1 3.3-5.1 3.3-5 3.5-5 3.4-5 3.6-4.8 3.6-4.9 3.7-4.7 3.7-4.8 3.8-4.6 3.8-4.6 3.9-4.6 4-4.5 4-4.4 4.1-4.4 4.1-4.3 4.3-4.3 4.2-4.2 4.4-4.1 4.4-4.1 4.4-4 4.5-3.9 4.6-3.9 4.6-3.8 4.8-3.7 4.7-3.7 4.9-3.5 4.8-3.6 5-3.4 5-3.3 5.1-3.3 5.1-3.2 5.2-3.1 5.2-3 5.2-3 5.4-2.8 5.3-2.7 5.4-2.7 5.5-2.5 5.5-2.5 5.5-2.3 5.6-2.3 5.6-2.1 5.7-2.1 5.7-1.9 5.7-1.8 5.7-1.7 5.8-1.6 5.8-1.5 5.9-1.3 5.8-1.2 5.9-1.2 5.9-0.9 6-0.9 5.9-0.8 6-0.7 6-0.5 6-0.5 6-0.4 6-0.2 6-0.2 6.1-0.1 6 0.1 6 0.1 6.1 0.2 6 0.2 6 0.4 6.1 0.4 6 0.5 6 0.6 6 0.7 6 0.7 5.9 0.8 6 0.8 5.9 1 6 1 5.9 1 5.9 1.2 5.9 1.2 5.8 1.2 5.9 1.3 5.8 1.4 5.8 1.5 5.8 1.5 5.8 1.6 5.8 1.6 5.7 1.7 5.7 1.8 5.7 1.8 5.7 1.9 5.7 1.9 5.6 2 5.7 2.1 5.6 2.1 5.5 2.2 5.6 2.3 5.5 2.3 5.6 2.3 5.5 2.4 5.4 2.5 5.5 2.5 5.4 2.6 5.4 2.6 5.4 2.7 5.3 2.8 5.3 2.7 5.4 2.8 5.3 2.9 5.3 2.8 5.3 2.9 5.3 2.9 5.2 2.9 5.3 2.9 5.3 2.9 5.3 2.8 5.4 2.9 5.3 2.8 5.3 2.8 5.4 2.8 5.4 2.8 5.4 2.6 5.5 2.7 5.4 2.5 5.6 2.5 5.5 2.4 5.6 2.3 5.6 2.2 5.7 2 5.7 1.9 5.7 1.8 5.8 1.6 5.8 1.5 5.9 1.3 5.8 1.2 5.9 1 5.9 0.8 5.9 0.6 5.9 0.5 5.9 0.2 5.9 0.1 6-0.1 5.9-0.3 5.9-0.5 6-0.6 5.9-0.7 6-0.9 5.9-0.9 6-1.1 5.9-1.1 6-1.2 5.9-1.2 6-1.3 5.9-1.3 6-1.3 5.9-1.4 5.9-1.2 6-1.3 5.9-1.2 5.9-1.2 5.9-1.1 5.9-1.1 6-1 5.9-1 5.9-0.9 5.9-0.8 6-0.8 5.9-0.7 6-0.6 6-0.6 5.9-0.4 6-0.4 6-0.3 6-0.2 6-0.2 6 0 6 0.1 6 0.2 6 0.4 6 0.4 6 0.6 5.9 0.6 5.9 0.9 5.9 0.9 5.9 1.1 5.9 1.2 5.8 1.4 5.8 1.6 5.8 1.7 5.7 1.8 5.7 2 5.7 2.2 5.6 2.2 5.5 2.5 5.5 2.5 5.4 2.8 5.4 2.8 5.2 3 5.2 3.1 5.1 3.3 5.1 3.3 4.9 3.5 4.9 3.7 4.7 3.7 4.7 3.9 4.5 4 4.4 4.1 4.3 4.2 4.2 4.3 4.1 4.5 3.9 4.5 3.8 4.7 3.7 4.7 3.6 4.9 3.4 4.9 3.2 5 3.1 5.1 3 5.2 2.8 5.3 2.7 5.3 2.5 5.5 2.3 5.4 2.2 5.6 2.1 5.6 1.8 5.7 1.7 5.7 1.5 5.8 1.4 5.8 1.1 5.9 1 5.9 0.8 5.9 0.6 6 0.5 6 0.2 6.1 0 6.1 -0.1 6 -0.4 6.1 -0.5 6.2 -0.8 6.1 -1 6.1" fill="none" stroke="#8329b0" stroke-width="5.0" stroke-linejoin="round"/>
<path d="M491.4 2576.1l-2.5-6.3 -2.3-6.2 -2-6.3 -1.9-6.2 -1.5-6.2 -1.4-6.1 -1.2-6.2 -0.9-6.1 -0.8-6.1 -0.5-6 -0.3-6 -0.2-6 0.1-6 0.2-5.9 0.4-5.9 0.6-5.8 0.8-5.9 0.9-5.7 1.1-5.8 1.3-5.7 1.4-5.6 1.6-5.6 1.7-5.6 1.9-5.5 2-5.5 2.1-5.5 2.3-5.3 2.4-5.4 2.5-5.3 2.7-5.2 2.7-5.2 2.9-5.1 2.9-5.1 3.1-5 3.2-5 3.3-5 3.3-4.8 3.5-4.9 3.6-4.7 3.6-4.8 3.8-4.6 3.8-4.7 3.9-4.5 4-4.5 4-4.5 4.2-4.4 4.2-4.4 4.2-4.3 4.4-4.3 4.3-4.2 4.5-4.2 4.5-4.1 4.6-4.1 4.6-4 4.6-4 4.7-3.9 4.8-3.9 4.8-3.8 4.8-3.8 4.9-3.7 4.9-3.7 4.9-3.6 4.9-3.6 5-3.5 5-3.5 5-3.4 5.1-3.4 5-3.3 5.1-3.3 5.1-3.2 5.2-3.2 5.1-3.2 5.2-3.1 5.2-3 5.3-3 5.2-3 5.3-2.9 5.3-2.8 5.3-2.9 5.3-2.7 5.4-2.8 5.3-2.6 5.4-2.7 5.4-2.6 5.5-2.5 5.4-2.5 5.5-2.5 5.5-2.4 5.5-2.3 5.5-2.4 5.5-2.2 5.6-2.3 5.6-2.2 5.6-2.1 5.6-2.1 5.6-2.1 5.6-2 5.7-2 5.6-1.9 5.7-1.9 5.7-1.9 5.7-1.8 5.7-1.8 5.8-1.7 5.7-1.7 5.8-1.6 5.8-1.6 5.7-1.6 5.8-1.5 5.8-1.5 5.9-1.4 5.8-1.4 5.8-1.4 5.9-1.3 5.9-1.3 5.8-1.2 5.9-1.3 5.9-1.1 5.9-1.2 5.9-1 5.9-1.1 6-1 5.9-1 5.9-0.9 6-0.9 6-0.9 5.9-0.8 6-0.8 6-0.8 5.9-0.7 6-0.6 6-0.7 6-0.6 6-0.5 6-0.6 6-0.4 6-0.5 6.1-0.4 6-0.3 6-0.4 6-0.3 6-0.2 6.1-0.2 6-0.2 6-0.1 6.1-0.1 6 0 6-0.1 6 0.1 6.1 0.1 6 0.1 6 0.1 6.1 0.2 6 0.2 6 0.3 6 0.3 6 0.4 6 0.4 6 0.4 6 0.5 6 0.5 6 0.6 6 0.6 6 0.6 6 0.7 6 0.8 5.9 0.7 6 0.8 6 0.9 5.9 0.9 5.9 0.9 6 1 5.9 1 5.9 1.1 5.9 1.1 5.9 1.2 5.9 1.2 5.9 1.2 5.8 1.3 5.9 1.3 5.9 1.4 5.8 1.4 5.8 1.5 5.8 1.5 5.8 1.5 5.8 1.6 5.8 1.7 5.8 1.6 5.7 1.8 5.7 1.7 5.8 1.8 5.7 1.9 5.7 1.9 5.7 1.9 5.6 2 5.7 2.1 5.6 2 5.6 2.2 5.6 2.1 5.6 2.3 5.6 2.2 5.5 2.3 5.6 2.4 5.5 2.4 5.5 2.4 5.5 2.5 5.4 2.6 5.5 2.6 5.4 2.6 5.4 2.7 5.4 2.7 5.3 2.8 5.4 2.8 5.3 2.8 5.3 3 5.2 2.9 5.3 3 5.2 3.1 5.2 3.1 5.2 3.1 5.2 3.2 5.1 3.3 5.1 3.3 5.1 3.3 5.1 3.4 5 3.4 5 3.5 4.9 3.6 5 3.6 4.8 3.6 4.9 3.7 4.8 3.7 4.7 3.8 4.7 3.8 4.7 3.9 4.6 3.9 4.6 4 4.5 4.1 4.4 4.1 4.4 4.1 4.3 4.2 4.3 4.2 4.2 4.3 4.1 4.4 4.1 4.4 4 4.4 3.9 4.6 3.9 4.5 3.7 4.6 3.7 4.7 3.7 4.7 3.5 4.8 3.4 4.8 3.4 4.9 3.3 4.9 3.2 5 3.1 5.1 3 5.1 2.9 5.1 2.8 5.3 2.7 5.2 2.6 5.4 2.5 5.3 2.3 5.5 2.3 5.4 2.1 5.6 2 5.6 1.9 5.6 1.7 5.7 1.6 5.7 1.5 5.8 1.3 5.9 1.2 5.9 1 5.9 0.9 6 0.7 6.1 0.5 6.1 0.4 6.1 0.2 6.2 0.1 6.3 -0.2 6.3 -0.3 6.3 -0.5 6.4" fill="none" stroke="#8329b0" stroke-width="4.7" stroke-linejoin="round" stroke-dasharray="14 7.7"/>
<path d="M463.2 2599.9l-1.9-5.6 -1.7-5.7 -1.6-5.7 -1.3-5.8 -1.2-5.8 -1-5.8 -0.9-6 -0.7-5.9 -0.7-6 -0.5-6 -0.5-6 -0.4-6 -0.3-6.1 -0.2-6 -0.2-6.1 -0.1-6 -0.1-6.1 0-6.1 0.1-6 0.2-6.1 0.3-6 0.3-6 0.5-6.1 0.5-5.9 0.7-6 0.7-6 0.9-5.9 1-5.9 1-5.9 1.2-5.8 1.4-5.8 1.4-5.8 1.6-5.8 1.7-5.7 1.8-5.7 1.9-5.6 2-5.6 2.1-5.6 2.2-5.6 2.3-5.5 2.3-5.5 2.5-5.5 2.5-5.4 2.6-5.5 2.7-5.4 2.7-5.4 2.8-5.4 2.9-5.3 2.9-5.3 3-5.3 3-5.3 3.1-5.2 3.2-5.2 3.3-5.1 3.3-5.1 3.4-5.1 3.4-4.9 3.6-4.9 3.6-4.9 3.7-4.8 3.8-4.6 3.8-4.7 4-4.5 4-4.4 4.1-4.4 4.2-4.2 4.3-4.1 4.4-4.1 4.5-3.9 4.5-3.8 4.7-3.7 4.7-3.5 4.9-3.5 4.9-3.4 5-3.2 5-3.2 5.1-3.1 5.2-2.9 5.3-2.9 5.3-2.8 5.4-2.7 5.4-2.6 5.5-2.5 5.5-2.4 5.6-2.4 5.6-2.2 5.7-2.2 5.7-2.1 5.7-2.1 5.7-1.9 5.8-1.9 5.8-1.9 5.8-1.7 5.8-1.7 5.8-1.7 5.9-1.5 5.8-1.6 5.9-1.4 5.9-1.4 5.8-1.3 5.9-1.2 6-1.2 5.9-1.1 5.9-1 5.9-1 6-0.9 5.9-0.8 6-0.8 5.9-0.6 6-0.6 5.9-0.5 6-0.5 6-0.3 6-0.3 5.9-0.3 6-0.1 6-0.1 6 0 6 0 6 0.2 5.9 0.1 6 0.3 6 0.2 6 0.4 6 0.4 6 0.4 6 0.5 6 0.5 6 0.6 5.9 0.6 6 0.7 6 0.7 6 0.7 6 0.7 6 0.8 5.9 0.9 6 0.8 6 0.9 5.9 0.9 6 0.9 6 1 5.9 0.9 6 1 5.9 1 6 1 5.9 1 5.9 1 5.9 1.1 6 1 5.9 1.1 5.9 1.1 5.9 1.1 5.9 1.1 5.9 1.1 5.9 1.1 5.9 1.1 5.9 1.2 5.9 1.1 5.9 1.2 5.9 1.1 5.9 1.2 5.9 1.2 5.8 1.2 5.9 1.2 5.9 1.3 5.9 1.2 5.8 1.2 5.9 1.3 5.9 1.2 5.9 1.3 5.8 1.3 5.9 1.3 5.9 1.2 5.8 1.3 5.9 1.3 5.8 1.4 5.9 1.3 5.9 1.3 5.8 1.3 5.9 1.4 5.8 1.3 5.9 1.3 5.9 1.4 5.8 1.4 5.9 1.3 5.8 1.4 5.9 1.4 5.9 1.4 5.8 1.3 5.9 1.4 5.9 1.4 5.8 1.4 5.9 1.4 5.9 1.5 5.8 1.4 5.9 1.4 5.8 1.4 5.9 1.5 5.9 1.5 5.8 1.4 5.9 1.5 5.8 1.5 5.8 1.5 5.9 1.5 5.8 1.5 5.8 1.6 5.9 1.5 5.8 1.6 5.8 1.6 5.8 1.6 5.8 1.6 5.8 1.6 5.8 1.7 5.8 1.7 5.7 1.6 5.8 1.7 5.7 1.8 5.8 1.7 5.7 1.7 5.8 1.8 5.7 1.8 5.7 1.8 5.7 1.9 5.7 1.8 5.6 1.9 5.7 1.9 5.7 2 5.6 1.9 5.6 2 5.6 2 5.6 2 5.6 2.1 5.6 2.1 5.6 2.1 5.5 2.2 5.6 2.2 5.5 2.2 5.6 2.3 5.5 2.3 5.5 2.4 5.5 2.4 5.5 2.5 5.5 2.6 5.5 2.5 5.4 2.7 5.5 2.7 5.4 2.7 5.5 2.9 5.4 2.9 5.4 2.9 5.4 3.1 5.3 3.1 5.3 3.2 5.2 3.3 5.1 3.4 5 3.5 4.9 3.5 4.8 3.7 4.7 3.8 4.5 3.9 4.5 4.1 4.2 4.1 4.1 4.3 3.9 4.4 3.7 4.5 3.6 4.7 3.3 4.8 3.1 4.9 2.9 5.1 2.7 5.2 2.4 5.4 2.3 5.5 2 5.6 1.9 5.7 1.7 5.7 1.5 5.9 1.3 5.9 1.2 5.9 1.1 6.1 0.9 6 0.8 6.1 0.6 6.1 0.6 6.1 0.4 6.1 0.3 6 0.3 6.1 0.3 6.1 0.3 6 0.3 6 0.4 6 0.4 6 0.6 5.9 0.7 5.9 0.8 5.8 1.1 5.8" fill="none" stroke="#ff0000" stroke-width="5.3" stroke-linejoin="round"/>
<path d="M444.7 2607.8l-1.1-5.8 -1.1-5.9 -0.9-6 -1-5.9 -0.8-5.9 -0.8-6 -0.8-5.9 -0.7-6 -0.6-6 -0.6-6 -0.5-6 -0.5-6 -0.4-6 -0.3-6 -0.2-6 -0.2-6 -0.1-6.1 -0.1-6 0.1-6 0.1-6 0.2-6 0.3-6 0.3-5.9 0.5-6 0.5-6 0.6-5.9 0.7-6 0.7-5.9 0.9-5.9 1-5.9 1-5.9 1.1-5.8 1.3-5.9 1.3-5.8 1.4-5.8 1.6-5.8 1.6-5.7 1.7-5.7 1.9-5.7 1.9-5.7 2-5.6 2.2-5.6 2.2-5.6 2.3-5.5 2.4-5.5 2.6-5.5 2.6-5.4 2.7-5.4 2.7-5.3 2.9-5.3 3-5.2 3-5.2 3.1-5.2 3.3-5.1 3.2-5 3.4-5 3.5-4.9 3.5-4.9 3.6-4.8 3.7-4.7 3.7-4.7 3.8-4.7 3.9-4.6 3.9-4.5 4-4.5 4.1-4.4 4.1-4.4 4.2-4.3 4.2-4.3 4.3-4.3 4.3-4.1 4.4-4.2 4.4-4.1 4.4-4 4.5-4 4.6-3.9 4.6-3.9 4.6-3.9 4.6-3.8 4.7-3.7 4.7-3.7 4.7-3.7 4.8-3.6 4.8-3.6 4.8-3.6 4.9-3.5 4.9-3.4 4.9-3.4 4.9-3.4 5-3.3 5-3.3 5.1-3.2 5-3.2 5.1-3.1 5.1-3.1 5.1-3.1 5.2-3 5.2-2.9 5.2-3 5.3-2.8 5.2-2.9 5.3-2.8 5.3-2.7 5.3-2.7 5.4-2.7 5.4-2.6 5.4-2.6 5.4-2.5 5.4-2.5 5.5-2.5 5.5-2.4 5.5-2.3 5.5-2.4 5.5-2.2 5.6-2.3 5.6-2.2 5.6-2.1 5.6-2.1 5.6-2.1 5.7-2 5.6-2 5.7-2 5.7-1.9 5.7-1.8 5.7-1.9 5.8-1.7 5.7-1.8 5.8-1.7 5.8-1.6 5.7-1.6 5.8-1.6 5.9-1.5 5.8-1.5 5.8-1.5 5.9-1.4 5.8-1.3 5.9-1.4 5.9-1.2 5.9-1.3 5.9-1.2 5.9-1.1 5.9-1.2 5.9-1.1 6-1 5.9-1 5.9-1 6-0.9 5.9-0.9 6-0.8 6-0.8 5.9-0.8 6-0.7 6-0.7 6-0.6 6-0.6 6-0.6 6-0.5 5.9-0.5 6-0.4 6-0.5 6-0.3 6-0.3 6-0.3 6-0.3 6-0.2 6-0.2 6-0.1 6-0.1 6.1-0.1 6 0 6 0 6 0.1 6 0.1 6 0.1 6 0.2 6 0.2 6 0.2 5.9 0.3 6 0.3 6 0.4 6 0.4 6 0.4 6 0.4 5.9 0.6 6 0.5 6 0.6 6 0.6 5.9 0.6 6 0.7 5.9 0.7 6 0.8 5.9 0.8 6 0.8 5.9 0.9 5.9 0.9 6 0.9 5.9 1 5.9 1 5.9 1.1 5.9 1.1 5.9 1.1 5.9 1.1 5.8 1.2 5.9 1.2 5.9 1.3 5.8 1.3 5.9 1.3 5.8 1.4 5.8 1.4 5.9 1.4 5.8 1.5 5.8 1.5 5.8 1.5 5.8 1.6 5.8 1.6 5.7 1.6 5.8 1.7 5.7 1.7 5.7 1.8 5.8 1.8 5.7 1.8 5.7 1.9 5.6 1.9 5.7 1.9 5.7 2 5.6 2 5.6 2.1 5.6 2.1 5.6 2.1 5.6 2.2 5.5 2.3 5.6 2.2 5.5 2.3 5.5 2.4 5.5 2.4 5.4 2.4 5.5 2.5 5.4 2.5 5.4 2.6 5.4 2.6 5.3 2.7 5.3 2.7 5.3 2.8 5.3 2.8 5.3 2.8 5.2 2.9 5.2 3 5.2 3 5.2 3 5.1 3.1 5.1 3.1 5.1 3.2 5.1 3.3 5 3.2 5 3.4 5 3.4 4.9 3.4 4.9 3.5 4.9 3.6 4.9 3.6 4.8 3.6 4.8 3.7 4.7 3.8 4.7 3.8 4.7 3.9 4.6 3.9 4.6 4 4.6 4 4.5 4 4.5 4.2 4.4 4.1 4.4 4.2 4.3 4.3 4.3 4.3 4.2 4.4 4.2 4.4 4.1 4.4 4 4.5 4 4.6 3.9 4.6 3.9 4.6 3.8 4.7 3.7 4.7 3.7 4.8 3.6 4.8 3.5 4.8 3.5 4.9 3.3 5 3.3 5 3.3 5 3.1 5 3.1 5.2 3 5.1 2.9 5.2 2.8 5.2 2.7 5.3 2.6 5.3 2.6 5.3 2.4 5.4 2.4 5.4 2.3 5.5 2.2 5.5 2 5.5 2 5.6 1.9 5.6 1.8 5.6 1.7 5.7 1.6 5.6 1.5 5.8 1.3 5.7 1.3 5.8 1.2 5.8 1.1 5.9 0.9 5.8 0.9 5.9 0.7 5.9 0.7 6 0.6 5.9 0.5 6 0.3 6 0.3 6 0.3 6.1 0.1 6 0.1 6.1 0 6 -0.1 6.1 -0.2 6.1 -0.2 6.1 -0.3 6 -0.3 6.1 -0.4 6.1 -0.4 6.1 -0.5 6.1 -0.5 6.1 -0.6 6 -0.6 6.1" fill="none" stroke="#ff0000" stroke-width="5.0" stroke-linejoin="round" stroke-dasharray="14 7.7"/>
<path d="M394.9 2625.6l0.3-5.8 0.2-5.8 0.2-5.9 0.1-5.8 0-6 0-5.9 -0.1-5.9 -0.1-6 -0.2-6 -0.2-6 -0.3-6 -0.2-6.1 -0.3-6 -0.3-6.1 -0.3-6 -0.3-6.1 -0.4-6.1 -0.3-6.1 -0.3-6.1 -0.3-6.1 -0.2-6.1 -0.3-6.1 -0.2-6.1 -0.2-6.1 -0.1-6.1 -0.1-6 0-6.1 0-6.1 0.1-6 0.2-6 0.2-6.1 0.3-6 0.4-6 0.5-5.9 0.6-6 0.6-5.9 0.8-5.9 0.9-5.9 1-5.8 1.2-5.8 1.2-5.8 1.4-5.8 1.5-5.7 1.7-5.7 1.8-5.7 1.9-5.6 2.1-5.6 2.2-5.5 2.3-5.5 2.4-5.4 2.5-5.4 2.7-5.4 2.8-5.3 2.9-5.2 3-5.2 3.1-5.1 3.2-5.1 3.3-5 3.4-5 3.5-4.8 3.6-4.9 3.7-4.7 3.7-4.8 3.8-4.7 3.9-4.6 3.9-4.6 3.9-4.6 4-4.6 4.1-4.5 4-4.5 4.1-4.5 4.1-4.6 4.1-4.5 4.1-4.5 4.1-4.5 4.1-4.5 4.1-4.4 4.1-4.5 4.2-4.4 4.2-4.4 4.2-4.3 4.3-4.2 4.3-4.2 4.4-4.1 4.5-4 4.5-4 4.6-3.8 4.6-3.8 4.7-3.6 4.7-3.6 4.8-3.6 4.9-3.4 4.9-3.4 5-3.2 5-3.2 5-3.2 5.2-3 5.1-3 5.2-2.9 5.2-2.8 5.3-2.8 5.4-2.6 5.3-2.6 5.4-2.6 5.5-2.5 5.4-2.4 5.5-2.3 5.6-2.3 5.5-2.2 5.7-2.1 5.6-2.1 5.6-2 5.7-2 5.7-1.8 5.8-1.9 5.7-1.7 5.8-1.7 5.8-1.7 5.8-1.6 5.9-1.5 5.8-1.5 5.9-1.4 5.9-1.4 5.9-1.3 5.9-1.3 5.9-1.2 5.9-1.2 5.9-1.1 6-1.1 5.9-1 5.9-1 6-0.9 5.9-0.9 6-0.8 5.9-0.8 6-0.8 6-0.7 5.9-0.6 6-0.6 6-0.6 6-0.5 5.9-0.5 6-0.5 6-0.4 6-0.3 6-0.4 6-0.3 6-0.2 6-0.2 6-0.2 6-0.1 6-0.1 6-0.1 6 0 6 0 6 0 6 0.1 6 0.1 6 0.2 6 0.1 6 0.2 6 0.3 6 0.2 6 0.3 6 0.4 6 0.3 6 0.4 5.9 0.4 6 0.5 6 0.4 6 0.5 6 0.6 6 0.5 6 0.6 6 0.6 5.9 0.6 6 0.7 6 0.6 6 0.7 5.9 0.8 6 0.7 6 0.8 5.9 0.8 6 0.8 5.9 0.9 6 0.9 5.9 0.9 6 0.9 5.9 1 5.9 1 6 1 5.9 1 5.9 1.1 5.9 1 5.9 1.1 5.9 1.2 5.9 1.1 5.9 1.2 5.9 1.2 5.9 1.2 5.9 1.3 5.8 1.3 5.9 1.3 5.9 1.3 5.8 1.4 5.9 1.3 5.8 1.4 5.8 1.5 5.9 1.4 5.8 1.5 5.8 1.5 5.8 1.5 5.8 1.5 5.8 1.6 5.8 1.6 5.8 1.6 5.7 1.7 5.8 1.6 5.8 1.7 5.7 1.7 5.7 1.7 5.8 1.8 5.7 1.8 5.7 1.8 5.8 1.8 5.7 1.8 5.7 1.9 5.7 1.9 5.7 1.9 5.6 1.9 5.7 1.9 5.7 2 5.7 1.9 5.7 2 5.6 2.1 5.7 2 5.6 2 5.7 2.1 5.6 2.1 5.7 2.1 5.6 2.1 5.7 2.1 5.6 2.2 5.6 2.2 5.7 2.2 5.6 2.2 5.6 2.2 5.6 2.3 5.5 2.3 5.6 2.3 5.5 2.4 5.6 2.4 5.5 2.4 5.5 2.5 5.4 2.5 5.5 2.6 5.4 2.6 5.4 2.6 5.3 2.7 5.4 2.7 5.3 2.8 5.2 2.8 5.3 2.9 5.2 2.9 5.1 3 5.2 3.1 5 3.1 5.1 3.1 5 3.3 5 3.2 5 3.3 4.9 3.4 4.8 3.5 4.9 3.4 4.8 3.6 4.8 3.6 4.8 3.6 4.7 3.7 4.7 3.8 4.6 3.8 4.7 3.8 4.6 3.9 4.5 4 4.6 4 4.5 4 4.5 4.1 4.5 4.2 4.4 4.2 4.4 4.2 4.4 4.3 4.3 4.4 4.2 4.4 4.2 4.4 4.1 4.6 4 4.6 3.9 4.6 3.8 4.7 3.6 4.8 3.5 4.9 3.4 4.9 3.3 5 3 5.1 3 5.1 2.7 5.2 2.5 5.3 2.4 5.4 2.2 5.4 2 5.6 1.8 5.5 1.7 5.7 1.6 5.7 1.4 5.7 1.2 5.8 1.2 5.9 1 5.9 0.9 5.9 0.9 6 0.7 6 0.6 6 0.6 6 0.4 6.1 0.4 6.1 0.4 6 0.3 6.1 0.2 6.1 0.2 6.1 0.2 6.1 0.2 6.1 0.1 6 0.1 6.1 0.2 6 0.1 6 0.1 6 0.2 6 0.2 5.9 0.2 5.8 0.3 5.9" fill="none" stroke="#ff7a30" stroke-width="4.8" stroke-linejoin="round"/>
<path d="M398.3 2626.3l-2.7-5.6 -2.5-5.7 -2.5-5.7 -2.3-5.8 -2.3-5.7 -2.1-5.8 -2.1-5.8 -1.9-5.8 -1.9-5.9 -1.8-5.9 -1.6-5.8 -1.6-5.9 -1.5-5.9 -1.3-6 -1.3-5.9 -1.2-5.9 -1.1-6 -1-5.9 -0.9-6 -0.8-6 -0.7-6 -0.6-5.9 -0.5-6 -0.4-6 -0.3-6 -0.3-6 -0.1-6 0-5.9 0-6 0.2-6 0.2-6 0.3-5.9 0.5-6 0.5-5.9 0.6-5.9 0.7-5.9 0.8-5.9 0.8-5.9 1-5.9 1.1-5.8 1.1-5.8 1.3-5.9 1.3-5.7 1.4-5.8 1.5-5.8 1.6-5.7 1.7-5.7 1.8-5.7 1.8-5.6 1.9-5.7 2-5.6 2.1-5.6 2.2-5.6 2.2-5.5 2.3-5.5 2.4-5.5 2.5-5.5 2.5-5.4 2.6-5.4 2.6-5.4 2.8-5.4 2.8-5.3 2.8-5.3 3-5.3 3-5.2 3-5.2 3.2-5.2 3.1-5.1 3.3-5.1 3.3-5.1 3.3-5 3.5-5.1 3.4-4.9 3.5-5 3.6-4.9 3.6-4.8 3.7-4.9 3.7-4.8 3.8-4.7 3.8-4.8 3.9-4.6 3.9-4.7 4-4.6 4-4.6 4-4.5 4.1-4.5 4.1-4.4 4.2-4.4 4.2-4.4 4.2-4.3 4.2-4.3 4.3-4.2 4.4-4.2 4.3-4.1 4.4-4.1 4.5-4.1 4.4-4 4.5-4 4.5-3.9 4.6-3.9 4.5-3.8 4.7-3.8 4.6-3.8 4.7-3.7 4.7-3.7 4.7-3.6 4.8-3.6 4.7-3.5 4.8-3.5 4.9-3.5 4.9-3.4 4.9-3.4 4.9-3.4 4.9-3.3 5-3.2 5-3.2 5-3.2 5.1-3.1 5-3.1 5.1-3.1 5.2-3 5.1-3 5.2-2.9 5.2-2.9 5.2-2.9 5.2-2.8 5.3-2.7 5.3-2.8 5.3-2.7 5.3-2.6 5.3-2.7 5.4-2.5 5.4-2.6 5.4-2.5 5.4-2.4 5.5-2.5 5.4-2.4 5.5-2.3 5.5-2.3 5.6-2.3 5.5-2.2 5.5-2.2 5.6-2.2 5.6-2.1 5.6-2.1 5.6-2 5.7-2.1 5.6-1.9 5.7-2 5.7-1.9 5.7-1.8 5.7-1.9 5.8-1.8 5.7-1.7 5.8-1.7 5.7-1.7 5.8-1.7 5.8-1.6 5.8-1.6 5.8-1.5 5.9-1.5 5.8-1.5 5.9-1.4 5.8-1.4 5.9-1.4 5.9-1.3 5.9-1.3 5.9-1.3 5.9-1.2 5.9-1.2 6-1.2 5.9-1.1 6-1.1 5.9-1.1 6-1 6-1 5.9-1 6-0.9 6-0.9 6-0.9 6-0.8 6-0.8 6-0.8 6.1-0.7 6-0.7 6-0.7 6-0.6 6.1-0.6 6-0.6 6-0.5 6.1-0.5 6-0.5 6.1-0.4 6-0.4 6.1-0.4 6-0.3 6.1-0.3 6.1-0.3 6-0.2 6.1-0.2 6-0.2 6.1-0.1 6-0.1 6.1-0.1 6.1 0 6 0 6.1 0 6 0.1 6.1 0.1 6 0.2 6.1 0.2 6 0.2 6.1 0.2 6 0.3 6 0.3 6.1 0.4 6 0.4 6 0.4 6.1 0.5 6 0.5 6 0.5 6 0.6 6 0.6 6 0.6 6 0.7 6 0.7 5.9 0.8 6 0.7 6 0.9 5.9 0.8 6 0.9 5.9 0.9 6 1 5.9 1 5.9 1.1 5.9 1 5.9 1.1 5.9 1.2 5.9 1.2 5.9 1.2 5.8 1.3 5.9 1.3 5.8 1.3 5.9 1.4 5.8 1.4 5.8 1.4 5.8 1.5 5.8 1.5 5.8 1.6 5.7 1.6 5.8 1.6 5.7 1.7 5.7 1.7 5.8 1.8 5.7 1.8 5.6 1.8 5.7 1.8 5.7 1.9 5.6 2 5.6 2 5.7 2 5.5 2 5.6 2.1 5.6 2.2 5.5 2.2 5.6 2.2 5.5 2.2 5.5 2.3 5.5 2.3 5.4 2.4 5.5 2.4 5.4 2.5 5.4 2.5 5.4 2.5 5.4 2.5 5.4 2.7 5.3 2.6 5.3 2.7 5.3 2.7 5.3 2.8 5.3 2.8 5.2 2.8 5.2 2.9 5.2 2.9 5.2 3 5.1 3 5.2 3.1 5.1 3.1 5.1 3.1 5 3.2 5.1 3.2 5 3.2 5 3.3 5 3.4 4.9 3.3 5 3.4 4.9 3.5 4.8 3.5 4.9 3.5 4.8 3.6 4.8 3.7 4.8 3.6 4.7 3.7 4.8 3.8 4.7 3.8 4.6 3.8 4.7 3.9 4.6 3.9 4.6 4 4.5 4 4.6 4 4.4 4.1 4.5 4.1 4.4 4.1 4.4 4.2 4.3 4.3 4.3 4.3 4.3 4.3 4.2 4.3 4.1 4.4 4.2 4.5 4.1 4.4 4 4.5 4 4.6 3.9 4.6 3.9 4.6 3.8 4.6 3.8 4.7 3.8 4.7 3.6 4.8 3.7 4.8 3.5 4.8 3.5 4.9 3.5 4.9 3.4 5 3.3 4.9 3.3 5.1 3.2 5 3.1 5.1 3.1 5.1 3 5.1 2.9 5.2 2.9 5.2 2.8 5.3 2.7 5.3 2.7 5.3 2.6 5.3 2.5 5.4 2.4 5.4 2.4 5.4 2.3 5.5 2.2 5.5 2.1 5.5 2 5.6 2 5.6 1.8 5.6 1.8 5.7 1.7 5.6 1.6 5.7 1.6 5.8 1.4 5.8 1.4 5.8 1.2 5.8 1.2 5.8 1.1 5.9 1 5.9 0.8 5.9 0.9 5.9 0.7 6 0.6 5.9 0.5 6 0.5 6 0.3 6 0.3 6.1 0.1 6 0.1 6 0 6.1 -0.1 6 -0.2 6.1 -0.3 6 -0.4 6.1 -0.5 6 -0.6 6.1 -0.6 6 -0.8 6.1 -0.9 6 -0.9 6 -1.1 6.1 -1.1 6 -1.3 6 -1.3 6 -1.5 5.9 -1.5 6 -1.6 5.9 -1.8 6 -1.8 5.9 -1.9 5.9 -2 5.8 -2.1 5.8 -2.3 5.9 -2.3 5.7" fill="none" stroke="#ff7a30" stroke-width="4.4" stroke-linejoin="round" stroke-dasharray="14 7.7"/>
<rect x="844.8" y="2782.2" width="187" height="9.6" rx="1.2" fill="#70d848"/>
<rect x="1057.8" y="2782.2" width="187" height="9.6" rx="1.2" fill="#00b450"/>
<rect x="1270.3" y="2782.2" width="187" height="9.6" rx="1.2" fill="#00b6f8"/>
<rect x="1483" y="2782.2" width="187" height="9.6" rx="1.2" fill="#8329b0"/>
<rect x="1696.6" y="2782.2" width="187" height="9.6" rx="1.2" fill="#ff0000"/>
<rect x="1908.8" y="2782.2" width="187" height="9.6" rx="1.2" fill="#ff7a30"/>
<rect x="1270.3" y="2864.6" width="28.2" height="9.4" rx="3" fill="#00b6f8"/>
<rect x="1307.3" y="2864.6" width="28.2" height="9.4" rx="3" fill="#00b6f8"/>
<rect x="1344.3" y="2864.6" width="28.2" height="9.4" rx="3" fill="#00b6f8"/>
<rect x="1381.3" y="2864.6" width="28.2" height="9.4" rx="3" fill="#00b6f8"/>
<rect x="1418.3" y="2864.6" width="28.2" height="9.4" rx="3" fill="#00b6f8"/>
<rect x="1455.3" y="2864.6" width="3.5" height="9.4" rx="1.5" fill="#00b6f8"/>
<path d="M1481.8 2871.4h187.5" stroke="#8329b0" stroke-width="8.8" stroke-dasharray="26.8 10" fill="none"/>
<path d="M1698.2 2871.4h187.5" stroke="#ff0000" stroke-width="8.8" stroke-dasharray="26.8 10" fill="none"/>
<path d="M1912.2 2871.4h187.5" stroke="#ff7a30" stroke-width="8.8" stroke-dasharray="26.8 10" fill="none"/>
<text transform="translate(922.8 2746.0) scale(1 1.03)" font-size="77.00">0</text>
<text transform="translate(1132.8 2746.0) scale(1 1.03)" font-size="77.00">24</text>
<text transform="translate(1342.2 2746.0) scale(1 1.03)" font-size="77.00">36</text>
<text transform="translate(1554.3 2746.0) scale(1 1.03)" font-size="77.00">52</text>
<text transform="translate(1761.8 2746.0) scale(1 1.03)" font-size="77.00">64</text>
<text transform="translate(1973.5 2746.0) scale(1 1.03)" font-size="77.00">76</text>
<text transform="translate(293.2 2807.0) scale(1 1.03)" font-size="76.83">AI-FEM</text>
<text transform="translate(293.2 2897.8) scale(1 1.03)" font-size="76.19">ASME Section XI</text>
<text transform="translate(1939.1 2962.5) scale(1 1.03)" font-size="68.36">(x1000 cycles)</text>
<text transform="translate(313.8 1709.2) scale(1 1.03)" font-size="76.77">AI-FEM</text>
<text transform="translate(258.5 1800.5) scale(1 1.03)" font-size="76.46">Crack depth</text>
<text transform="translate(914.9 1663.0) scale(1 1.03)" font-size="68.56">ASME Section XI</text>
<text transform="translate(995.3 1745.5) scale(1 1.03)" font-size="69.47">Crack depth</text>
<g class="eq" stroke="#000" stroke-width="0.4" stroke-linejoin="round"><text transform="translate(2000.2 1689.8) scale(1.066 1.164)" font-family="'DejaVu Serif Condensed',serif" font-size="60" font-style="italic">R</text><text transform="translate(2041.3 1705.8) scale(1.124 0.872)" font-family="'DejaVu Serif Condensed',serif" font-size="60" font-style="italic">m</text><text transform="translate(2105.5 1691.2) skewX(-9.36) scale(1.138 1.388)" font-family="'DejaVu Serif',serif" font-size="60">/</text><text transform="translate(2143.2 1688.8) scale(1.280 1.074)" font-family="'DejaVu Serif Condensed',serif" font-size="60" font-style="italic">t</text> <text transform="translate(2196.2 1694.5) scale(1.656 1.353)" font-family="'Liberation Serif',serif" font-size="60">=</text> <text transform="translate(2271.7 1688.7) scale(1.116 1.190)" font-family="'DejaVu Serif',serif" font-size="60">5</text></g>
<g class="eq" stroke="#000" stroke-width="0.4" stroke-linejoin="round"><text transform="translate(1990.5 1780.0) scale(1.067 1.115)" font-family="'DejaVu Serif Condensed',serif" font-size="60" font-style="italic">c</text><text transform="translate(2032.8 1782.7) skewX(-8.87) scale(1.131 1.380)" font-family="'DejaVu Serif',serif" font-size="60">/</text><text transform="translate(2071.4 1780.0) scale(1.363 1.115)" font-family="'DejaVu Serif Condensed',serif" font-size="60" font-style="italic">a</text> <text transform="translate(2135.7 1786.3) scale(1.656 1.353)" font-family="'Liberation Serif',serif" font-size="60">=</text> <text transform="translate(2212.8 1781.0) scale(1.293 1.141)" font-family="'DejaVu Serif',serif" font-size="60">1</text></g>
</g>
</g>
<g id="captions">
<g class="cap"><text transform="translate(1151.8 1545.8) scale(1.288 1.424)" font-family="'Liberation Serif',serif" font-size="60">(</text><text transform="translate(1179.2 1545.4) scale(1.359 1.484)" font-family="'Liberation Serif',serif" font-size="60" font-weight="bold">a</text><text transform="translate(1220.4 1545.8) scale(1.231 1.424)" font-family="'Liberation Serif',serif" font-size="60">)</text></g>
<g class="cap"><text transform="translate(1146.7 3099.5) scale(1.268 1.424)" font-family="'Liberation Serif',serif" font-size="60">(</text><text transform="translate(1174.3 3099.6) scale(1.467 1.474)" font-family="'Liberation Serif',serif" font-size="60" font-weight="bold">b</text><text transform="translate(1224.6 3099.5) scale(1.263 1.424)" font-family="'Liberation Serif',serif" font-size="60">)</text></g>
</g>
</svg>
</body></html>
